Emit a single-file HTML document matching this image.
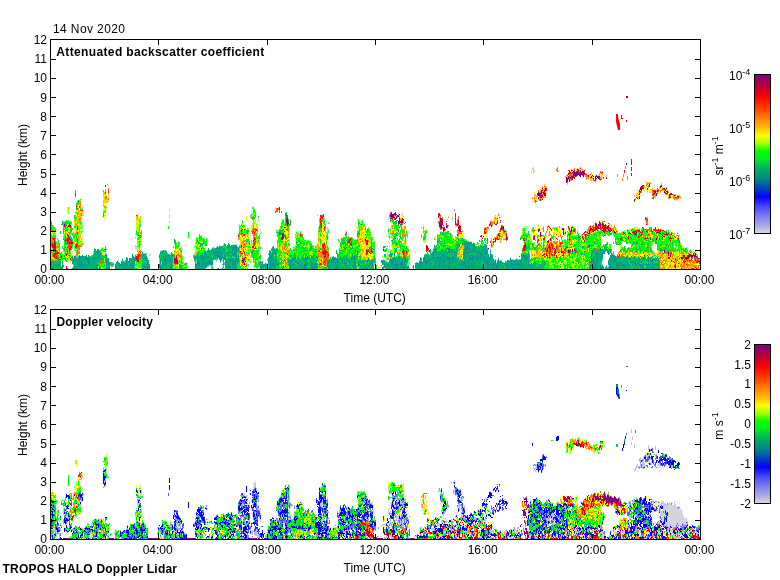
<!DOCTYPE html><html><head><meta charset="utf-8"><style>html,body{margin:0;padding:0;background:#fff;width:780px;height:580px;overflow:hidden}svg{display:block}text{font-family:"Liberation Sans", Arial, Helvetica, sans-serif;fill:#000}</style></head><body>
<svg width="780" height="580" viewBox="0 0 780 580">
<defs><linearGradient id="cm" x1="0" y1="0" x2="0" y2="1"><stop offset="0.0" stop-color="#800080"/><stop offset="0.064" stop-color="#b00040"/><stop offset="0.134" stop-color="#ff0000"/><stop offset="0.21" stop-color="#ff4000"/><stop offset="0.274" stop-color="#ff8000"/><stop offset="0.338" stop-color="#ffc000"/><stop offset="0.385" stop-color="#ffff00"/><stop offset="0.433" stop-color="#a0ff00"/><stop offset="0.484" stop-color="#00ff00"/><stop offset="0.529" stop-color="#00f020"/><stop offset="0.592" stop-color="#00b060"/><stop offset="0.656" stop-color="#008888"/><stop offset="0.707" stop-color="#0050b0"/><stop offset="0.771" stop-color="#0000ff"/><stop offset="0.834" stop-color="#4848ff"/><stop offset="0.898" stop-color="#8080f0"/><stop offset="0.962" stop-color="#b0b0e8"/><stop offset="1.0" stop-color="#d8d8e8"/></linearGradient></defs>
<defs><pattern id="p_teal" patternUnits="userSpaceOnUse" width="24" height="16"><rect width="24" height="16" fill="#00a888"/><path fill="#009098" d="M2 0h1v2h-1zM4 0h1v2h-1zM7 0h1v2h-1zM9 0h1v2h-1zM12 0h1v2h-1zM16 0h1v2h-1zM18 0h1v2h-1zM5 2h2v2h-2zM8 2h1v2h-1zM13 2h1v2h-1zM15 2h2v2h-2zM21 2h2v2h-2zM4 4h1v2h-1zM7 4h1v2h-1zM11 4h1v2h-1zM15 4h3v2h-3zM20 4h2v2h-2zM0 6h1v2h-1zM7 6h1v2h-1zM17 6h2v2h-2zM7 8h2v2h-2zM11 8h1v2h-1zM13 8h1v2h-1zM16 8h2v2h-2zM3 10h1v2h-1zM16 10h1v2h-1zM0 12h2v2h-2zM10 12h1v2h-1zM12 12h1v2h-1zM14 12h1v2h-1zM22 12h1v2h-1zM9 14h1v2h-1zM17 14h1v2h-1z"/><path fill="#00b868" d="M13 0h1v2h-1zM22 0h1v2h-1zM3 2h1v2h-1zM12 2h1v2h-1zM18 2h2v2h-2zM23 2h1v2h-1zM0 4h1v2h-1zM5 4h1v2h-1zM9 4h2v2h-2zM12 4h1v2h-1zM14 4h1v2h-1zM18 4h1v2h-1zM23 4h1v2h-1zM2 6h1v2h-1zM5 6h1v2h-1zM11 6h1v2h-1zM15 6h1v2h-1zM19 6h3v2h-3zM1 8h1v2h-1zM15 8h1v2h-1zM18 8h1v2h-1zM20 8h4v2h-4zM15 10h1v2h-1zM22 10h1v2h-1zM6 12h1v2h-1zM16 12h2v2h-2zM21 12h1v2h-1zM23 12h1v2h-1zM2 14h1v2h-1zM4 14h4v2h-4zM15 14h1v2h-1z"/><path fill="#00d040" d="M17 0h1v2h-1zM20 0h1v2h-1zM2 4h1v2h-1zM19 4h1v2h-1zM1 6h1v2h-1zM2 8h1v2h-1zM14 8h1v2h-1zM23 10h1v2h-1zM9 12h1v2h-1zM15 12h1v2h-1zM3 14h1v2h-1zM16 14h1v2h-1zM18 14h3v2h-3z"/></pattern><pattern id="p_tealg" patternUnits="userSpaceOnUse" width="24" height="16"><rect width="24" height="16" fill="#00a888"/><path fill="#00d040" d="M2 0h1v2h-1zM6 0h1v2h-1zM9 0h1v2h-1zM22 0h1v2h-1zM7 2h1v2h-1zM9 2h1v2h-1zM13 2h1v2h-1zM23 2h1v2h-1zM6 4h1v2h-1zM20 4h2v2h-2zM0 6h1v2h-1zM3 6h1v2h-1zM8 6h1v2h-1zM12 6h1v2h-1zM15 6h1v2h-1zM20 6h1v2h-1zM0 8h1v2h-1zM9 8h1v2h-1zM13 8h2v2h-2zM6 10h1v2h-1zM8 10h1v2h-1zM12 10h1v2h-1zM6 12h2v2h-2zM10 12h1v2h-1zM14 12h1v2h-1zM22 12h1v2h-1zM19 14h1v2h-1z"/><path fill="#009098" d="M3 0h2v2h-2zM10 0h1v2h-1zM18 0h1v2h-1zM21 0h1v2h-1zM2 2h1v2h-1zM5 2h2v2h-2zM12 2h1v2h-1zM15 2h1v2h-1zM17 2h2v2h-2zM3 4h1v2h-1zM7 4h1v2h-1zM9 4h1v2h-1zM10 6h1v2h-1zM19 6h1v2h-1zM21 6h2v2h-2zM1 8h2v2h-2zM11 8h1v2h-1zM16 8h2v2h-2zM19 8h1v2h-1zM22 8h2v2h-2zM15 10h1v2h-1zM17 10h1v2h-1zM1 12h2v2h-2zM5 12h1v2h-1zM13 12h1v2h-1zM17 12h1v2h-1zM19 12h1v2h-1zM23 12h1v2h-1zM22 14h1v2h-1z"/><path fill="#00b868" d="M5 0h1v2h-1zM13 0h1v2h-1zM16 0h1v2h-1zM19 0h2v2h-2zM8 2h1v2h-1zM14 2h1v2h-1zM16 2h1v2h-1zM21 2h1v2h-1zM1 4h1v2h-1zM4 4h2v2h-2zM8 4h1v2h-1zM10 4h3v2h-3zM14 4h1v2h-1zM19 4h1v2h-1zM22 4h2v2h-2zM5 6h1v2h-1zM7 6h1v2h-1zM11 6h1v2h-1zM13 6h2v2h-2zM16 6h3v2h-3zM5 8h1v2h-1zM20 8h2v2h-2zM1 10h3v2h-3zM5 10h1v2h-1zM9 10h1v2h-1zM11 10h1v2h-1zM13 10h1v2h-1zM0 12h1v2h-1zM11 12h1v2h-1zM20 12h2v2h-2zM2 14h1v2h-1zM8 14h2v2h-2zM11 14h2v2h-2zM14 14h1v2h-1zM21 14h1v2h-1z"/><path fill="#00ff00" d="M7 0h1v2h-1zM11 0h2v2h-2zM15 0h1v2h-1zM17 0h1v2h-1zM3 2h1v2h-1zM17 4h1v2h-1zM1 6h1v2h-1zM6 6h1v2h-1zM9 6h1v2h-1zM10 8h1v2h-1zM16 10h1v2h-1zM21 10h1v2h-1zM15 12h1v2h-1zM10 14h1v2h-1zM18 14h1v2h-1z"/></pattern><pattern id="p_green" patternUnits="userSpaceOnUse" width="24" height="16"><rect width="24" height="16" fill="#00ff00"/><path fill="#a0ff00" d="M0 0h1v2h-1zM3 0h1v2h-1zM9 0h2v2h-2zM17 0h1v2h-1zM21 0h2v2h-2zM6 4h1v2h-1zM8 4h2v2h-2zM14 4h1v2h-1zM17 4h2v2h-2zM20 4h2v2h-2zM1 6h3v2h-3zM5 6h1v2h-1zM13 6h1v2h-1zM20 6h2v2h-2zM2 8h1v2h-1zM6 8h1v2h-1zM8 8h1v2h-1zM14 8h1v2h-1zM20 8h1v2h-1zM10 10h1v2h-1zM16 10h1v2h-1zM4 12h1v2h-1zM6 12h2v2h-2zM9 12h1v2h-1zM19 12h1v2h-1zM21 12h2v2h-2zM1 14h1v2h-1zM13 14h1v2h-1zM22 14h2v2h-2z"/><path fill="#00d040" d="M5 0h2v2h-2zM11 0h1v2h-1zM23 0h1v2h-1zM9 2h1v2h-1zM17 2h1v2h-1zM19 2h1v2h-1zM4 4h2v2h-2zM7 4h1v2h-1zM15 4h1v2h-1zM19 4h1v2h-1zM23 4h1v2h-1zM0 6h1v2h-1zM4 6h1v2h-1zM6 6h2v2h-2zM14 6h4v2h-4zM22 6h2v2h-2zM0 8h1v2h-1zM13 8h1v2h-1zM15 8h2v2h-2zM22 8h1v2h-1zM2 10h3v2h-3zM6 10h1v2h-1zM23 10h1v2h-1zM1 12h1v2h-1zM5 12h1v2h-1zM7 14h1v2h-1zM18 14h1v2h-1z"/><path fill="#00b868" d="M7 0h1v2h-1zM7 2h2v2h-2zM11 2h1v2h-1zM12 4h1v2h-1zM9 8h1v2h-1zM12 10h2v2h-2zM17 10h1v2h-1zM21 10h1v2h-1zM2 12h1v2h-1zM0 14h1v2h-1zM2 14h1v2h-1zM6 14h1v2h-1zM15 14h1v2h-1zM21 14h1v2h-1z"/></pattern><pattern id="p_greeny" patternUnits="userSpaceOnUse" width="24" height="16"><rect width="24" height="16" fill="#00ff00"/><path fill="#a0ff00" d="M0 0h1v2h-1zM3 0h1v2h-1zM7 0h1v2h-1zM9 0h1v2h-1zM14 0h2v2h-2zM20 0h1v2h-1zM22 0h2v2h-2zM4 2h1v2h-1zM8 2h1v2h-1zM12 2h1v2h-1zM16 2h1v2h-1zM19 2h5v2h-5zM4 4h2v2h-2zM10 4h2v2h-2zM19 4h2v2h-2zM22 4h1v2h-1zM6 6h1v2h-1zM10 6h1v2h-1zM12 6h2v2h-2zM18 6h1v2h-1zM22 6h1v2h-1zM2 8h3v2h-3zM6 8h1v2h-1zM9 8h1v2h-1zM11 8h1v2h-1zM13 8h1v2h-1zM20 8h1v2h-1zM22 8h1v2h-1zM4 10h2v2h-2zM10 10h1v2h-1zM20 10h1v2h-1zM23 10h1v2h-1zM0 12h1v2h-1zM3 12h1v2h-1zM9 12h1v2h-1zM20 12h3v2h-3zM3 14h1v2h-1zM8 14h1v2h-1zM11 14h1v2h-1zM13 14h2v2h-2zM17 14h1v2h-1zM20 14h1v2h-1z"/><path fill="#00d040" d="M1 0h2v2h-2zM12 0h1v2h-1zM18 0h1v2h-1zM3 2h1v2h-1zM6 2h2v2h-2zM2 4h1v2h-1zM12 4h1v2h-1zM18 4h1v2h-1zM23 4h1v2h-1zM2 6h1v2h-1zM8 6h1v2h-1zM17 6h1v2h-1zM10 8h1v2h-1zM16 8h1v2h-1zM1 10h1v2h-1zM12 10h1v2h-1zM19 10h1v2h-1zM1 12h1v2h-1zM5 12h1v2h-1zM10 12h1v2h-1zM13 12h2v2h-2zM17 12h1v2h-1zM4 14h1v2h-1zM6 14h1v2h-1zM15 14h1v2h-1zM18 14h1v2h-1z"/><path fill="#ffff00" d="M4 0h1v2h-1zM6 0h1v2h-1zM8 0h1v2h-1zM17 0h1v2h-1zM17 2h2v2h-2zM6 4h1v2h-1zM13 4h2v2h-2zM17 4h1v2h-1zM0 6h2v2h-2zM7 6h1v2h-1zM9 6h1v2h-1zM11 6h1v2h-1zM15 6h1v2h-1zM23 6h1v2h-1zM12 8h1v2h-1zM17 8h1v2h-1zM21 8h1v2h-1zM0 10h1v2h-1zM6 10h1v2h-1zM8 10h2v2h-2zM14 10h1v2h-1zM17 10h1v2h-1zM11 12h2v2h-2zM18 12h1v2h-1zM9 14h2v2h-2zM21 14h2v2h-2z"/></pattern><pattern id="p_yellow" patternUnits="userSpaceOnUse" width="24" height="16"><rect width="24" height="16" fill="#ffff00"/><path fill="#ff8000" d="M2 0h1v2h-1zM5 0h1v2h-1zM8 0h1v2h-1zM16 0h1v2h-1zM18 0h1v2h-1zM22 0h2v2h-2zM4 2h1v2h-1zM23 2h1v2h-1zM1 4h1v2h-1zM5 6h1v2h-1zM10 6h1v2h-1zM15 6h1v2h-1zM20 6h1v2h-1zM22 6h1v2h-1zM4 8h1v2h-1zM11 10h1v2h-1zM17 10h1v2h-1zM23 10h1v2h-1zM9 12h1v2h-1zM17 12h1v2h-1zM21 12h1v2h-1zM0 14h2v2h-2zM4 14h1v2h-1zM6 14h1v2h-1zM23 14h1v2h-1z"/><path fill="#a0ff00" d="M4 0h1v2h-1zM11 0h1v2h-1zM15 0h1v2h-1zM6 2h4v2h-4zM14 2h1v2h-1zM17 2h1v2h-1zM0 4h1v2h-1zM6 4h1v2h-1zM11 4h3v2h-3zM16 4h1v2h-1zM20 4h1v2h-1zM1 6h1v2h-1zM8 6h1v2h-1zM13 6h2v2h-2zM0 8h1v2h-1zM3 8h1v2h-1zM18 8h1v2h-1zM22 8h1v2h-1zM7 10h1v2h-1zM16 10h1v2h-1zM20 10h1v2h-1zM1 12h1v2h-1zM3 12h1v2h-1zM20 12h1v2h-1zM8 14h1v2h-1zM10 14h1v2h-1zM13 14h2v2h-2zM22 14h1v2h-1z"/><path fill="#ffc000" d="M9 0h1v2h-1zM17 0h1v2h-1zM21 0h1v2h-1zM3 2h1v2h-1zM10 2h1v2h-1zM21 2h1v2h-1zM5 4h1v2h-1zM7 4h1v2h-1zM10 4h1v2h-1zM14 4h1v2h-1zM18 4h1v2h-1zM2 6h1v2h-1zM6 6h1v2h-1zM9 6h1v2h-1zM12 6h1v2h-1zM21 6h1v2h-1zM1 8h1v2h-1zM6 8h2v2h-2zM13 8h2v2h-2zM23 8h1v2h-1zM3 10h2v2h-2zM13 10h1v2h-1zM4 12h1v2h-1zM7 12h2v2h-2zM11 12h1v2h-1zM13 12h1v2h-1zM16 12h1v2h-1zM19 12h1v2h-1zM2 14h1v2h-1zM7 14h1v2h-1zM18 14h1v2h-1z"/></pattern><pattern id="p_orange" patternUnits="userSpaceOnUse" width="24" height="16"><rect width="24" height="16" fill="#ff8000"/><path fill="#ffc000" d="M1 0h1v2h-1zM6 0h3v2h-3zM11 0h1v2h-1zM13 0h3v2h-3zM17 0h2v2h-2zM22 0h1v2h-1zM0 2h1v2h-1zM3 2h1v2h-1zM5 2h2v2h-2zM8 2h1v2h-1zM12 2h1v2h-1zM14 2h1v2h-1zM0 4h1v2h-1zM14 4h1v2h-1zM18 4h1v2h-1zM0 6h1v2h-1zM5 6h2v2h-2zM9 6h2v2h-2zM14 6h1v2h-1zM19 6h1v2h-1zM22 6h1v2h-1zM4 8h1v2h-1zM6 8h2v2h-2zM12 8h3v2h-3zM18 8h1v2h-1zM1 10h2v2h-2zM4 10h2v2h-2zM11 10h1v2h-1zM17 10h2v2h-2zM20 10h2v2h-2zM3 12h1v2h-1zM9 12h1v2h-1zM13 12h3v2h-3zM3 14h1v2h-1zM5 14h1v2h-1zM12 14h1v2h-1zM14 14h1v2h-1zM16 14h2v2h-2zM19 14h1v2h-1zM21 14h1v2h-1z"/><path fill="#ffff00" d="M2 0h1v2h-1zM4 0h1v2h-1zM20 0h2v2h-2zM10 2h2v2h-2zM18 2h1v2h-1zM20 2h2v2h-2zM4 4h1v2h-1zM8 4h1v2h-1zM12 4h1v2h-1zM3 6h1v2h-1zM16 6h1v2h-1zM21 6h1v2h-1zM0 8h1v2h-1zM2 8h1v2h-1zM13 10h1v2h-1zM23 10h1v2h-1zM7 12h1v2h-1zM16 12h1v2h-1zM22 12h2v2h-2zM1 14h2v2h-2zM4 14h1v2h-1zM11 14h1v2h-1zM13 14h1v2h-1zM18 14h1v2h-1z"/><path fill="#ff0000" d="M16 2h1v2h-1zM19 2h1v2h-1zM23 2h1v2h-1zM1 4h2v2h-2zM5 4h1v2h-1zM10 4h1v2h-1zM15 4h1v2h-1zM23 4h1v2h-1zM1 6h1v2h-1zM8 6h1v2h-1zM11 6h1v2h-1zM13 6h1v2h-1zM18 6h1v2h-1zM5 8h1v2h-1zM15 8h1v2h-1zM7 10h1v2h-1zM12 10h1v2h-1zM22 10h1v2h-1zM1 12h1v2h-1zM10 12h1v2h-1zM21 12h1v2h-1zM22 14h1v2h-1z"/></pattern><pattern id="p_red" patternUnits="userSpaceOnUse" width="24" height="16"><rect width="24" height="16" fill="#ff0000"/><path fill="#b00048" d="M0 0h1v2h-1zM5 0h1v2h-1zM8 0h1v2h-1zM11 0h1v2h-1zM15 0h1v2h-1zM3 2h1v2h-1zM7 2h1v2h-1zM21 2h1v2h-1zM0 4h2v2h-2zM0 6h1v2h-1zM19 6h1v2h-1zM5 8h1v2h-1zM20 8h1v2h-1zM22 8h1v2h-1zM2 10h1v2h-1zM5 10h1v2h-1zM0 12h1v2h-1zM14 12h1v2h-1zM17 12h1v2h-1zM20 12h1v2h-1zM16 14h1v2h-1zM23 14h1v2h-1z"/><path fill="#ff5000" d="M4 0h1v2h-1zM6 0h1v2h-1zM12 0h3v2h-3zM18 0h1v2h-1zM21 0h2v2h-2zM1 2h1v2h-1zM12 2h4v2h-4zM17 2h1v2h-1zM8 4h1v2h-1zM10 4h1v2h-1zM21 4h1v2h-1zM1 6h1v2h-1zM3 6h1v2h-1zM9 6h2v2h-2zM8 8h1v2h-1zM11 8h1v2h-1zM14 8h1v2h-1zM16 8h1v2h-1zM3 10h1v2h-1zM8 10h1v2h-1zM11 10h1v2h-1zM16 10h2v2h-2zM21 10h1v2h-1zM4 12h1v2h-1zM10 12h1v2h-1zM15 12h1v2h-1zM22 12h1v2h-1zM1 14h1v2h-1zM8 14h3v2h-3zM13 14h1v2h-1zM15 14h1v2h-1zM18 14h2v2h-2zM22 14h1v2h-1z"/><path fill="#ff8000" d="M17 0h1v2h-1zM19 0h1v2h-1zM19 2h2v2h-2zM23 2h1v2h-1zM6 4h2v2h-2zM9 4h1v2h-1zM14 4h1v2h-1zM2 6h1v2h-1zM7 6h1v2h-1zM12 6h1v2h-1zM14 6h1v2h-1zM18 6h1v2h-1zM23 6h1v2h-1zM3 8h1v2h-1zM13 8h1v2h-1zM15 8h1v2h-1zM9 10h2v2h-2zM15 10h1v2h-1zM20 10h1v2h-1zM5 12h1v2h-1zM21 12h1v2h-1zM7 14h1v2h-1z"/></pattern><pattern id="p_redp" patternUnits="userSpaceOnUse" width="24" height="16"><rect width="24" height="16" fill="#ff0000"/><path fill="#b00048" d="M0 0h5v2h-5zM7 0h1v2h-1zM10 0h3v2h-3zM18 0h1v2h-1zM21 0h2v2h-2zM5 2h1v2h-1zM11 2h1v2h-1zM13 2h2v2h-2zM19 2h1v2h-1zM21 2h1v2h-1zM7 4h1v2h-1zM11 4h1v2h-1zM15 4h1v2h-1zM19 4h3v2h-3zM3 6h3v2h-3zM10 6h1v2h-1zM12 6h1v2h-1zM19 6h1v2h-1zM1 8h2v2h-2zM5 8h1v2h-1zM7 8h1v2h-1zM9 8h1v2h-1zM11 8h2v2h-2zM16 8h1v2h-1zM21 8h1v2h-1zM1 10h1v2h-1zM5 10h2v2h-2zM8 10h2v2h-2zM11 10h1v2h-1zM13 10h1v2h-1zM3 12h1v2h-1zM5 12h1v2h-1zM8 12h2v2h-2zM14 12h2v2h-2zM18 12h1v2h-1zM2 14h2v2h-2zM5 14h1v2h-1zM9 14h1v2h-1zM14 14h1v2h-1zM16 14h1v2h-1zM22 14h2v2h-2z"/><path fill="#800080" d="M5 0h1v2h-1zM9 0h1v2h-1zM14 0h4v2h-4zM23 0h1v2h-1zM0 2h1v2h-1zM3 2h1v2h-1zM7 2h1v2h-1zM9 2h2v2h-2zM12 2h1v2h-1zM15 2h2v2h-2zM20 2h1v2h-1zM3 4h1v2h-1zM5 4h2v2h-2zM13 4h1v2h-1zM16 4h1v2h-1zM22 4h2v2h-2zM6 6h1v2h-1zM8 6h1v2h-1zM14 6h1v2h-1zM16 6h1v2h-1zM23 6h1v2h-1zM0 8h1v2h-1zM4 10h1v2h-1zM12 10h1v2h-1zM14 10h1v2h-1zM16 10h1v2h-1zM20 10h1v2h-1zM22 10h1v2h-1zM0 12h3v2h-3zM6 12h2v2h-2zM11 12h1v2h-1zM17 12h1v2h-1zM22 12h2v2h-2zM7 14h2v2h-2zM11 14h3v2h-3zM17 14h2v2h-2zM20 14h1v2h-1z"/><path fill="#ff8000" d="M19 0h1v2h-1zM1 2h1v2h-1zM6 2h1v2h-1zM17 2h1v2h-1zM23 2h1v2h-1zM12 4h1v2h-1zM1 6h1v2h-1zM4 8h1v2h-1zM8 8h1v2h-1zM15 8h1v2h-1zM0 10h1v2h-1zM3 10h1v2h-1zM7 10h1v2h-1zM15 10h1v2h-1zM12 12h1v2h-1zM19 12h1v2h-1zM21 12h1v2h-1zM0 14h1v2h-1zM21 14h1v2h-1z"/></pattern><pattern id="p_cloud" patternUnits="userSpaceOnUse" width="24" height="16"><rect width="24" height="16" fill="#ff8000"/><path fill="#ffc000" d="M0 0h3v2h-3zM11 0h1v2h-1zM11 2h1v2h-1zM15 2h2v2h-2zM18 2h1v2h-1zM7 4h1v2h-1zM12 4h1v2h-1zM16 6h1v2h-1zM0 8h1v2h-1zM6 8h1v2h-1zM12 8h1v2h-1zM16 8h1v2h-1zM21 8h1v2h-1zM2 10h1v2h-1zM7 10h1v2h-1zM10 10h1v2h-1zM15 10h1v2h-1zM17 10h1v2h-1zM3 12h1v2h-1zM8 12h1v2h-1zM20 12h1v2h-1zM14 14h1v2h-1zM16 14h1v2h-1zM21 14h1v2h-1z"/><path fill="#800080" d="M3 0h2v2h-2zM7 0h1v2h-1zM15 0h2v2h-2zM19 0h5v2h-5zM0 2h1v2h-1zM2 2h1v2h-1zM10 2h1v2h-1zM20 2h1v2h-1zM8 4h1v2h-1zM14 4h1v2h-1zM19 4h1v2h-1zM2 6h1v2h-1zM4 6h1v2h-1zM8 6h1v2h-1zM10 6h1v2h-1zM12 6h2v2h-2zM18 6h1v2h-1zM21 6h1v2h-1zM1 8h1v2h-1zM9 8h1v2h-1zM13 8h2v2h-2zM0 10h1v2h-1zM3 10h1v2h-1zM6 10h1v2h-1zM11 10h2v2h-2zM19 10h1v2h-1zM6 12h1v2h-1zM16 12h2v2h-2zM9 14h1v2h-1zM13 14h1v2h-1zM23 14h1v2h-1z"/><path fill="#ffff00" d="M5 0h1v2h-1zM17 0h1v2h-1zM4 2h1v2h-1zM8 2h1v2h-1zM12 2h2v2h-2zM2 4h1v2h-1zM7 6h1v2h-1zM22 6h1v2h-1zM11 8h1v2h-1zM17 8h1v2h-1zM19 8h1v2h-1zM1 10h1v2h-1zM5 10h1v2h-1zM14 10h1v2h-1zM20 10h1v2h-1zM23 10h1v2h-1zM0 12h1v2h-1zM5 12h1v2h-1zM11 12h1v2h-1zM13 12h1v2h-1zM21 12h2v2h-2zM1 14h2v2h-2z"/><path fill="#ffffff" d="M8 0h1v2h-1zM14 0h1v2h-1zM18 0h1v2h-1zM9 2h1v2h-1zM21 2h1v2h-1zM4 4h1v2h-1zM9 4h2v2h-2zM21 4h1v2h-1zM23 4h1v2h-1zM9 6h1v2h-1zM15 6h1v2h-1zM17 6h1v2h-1zM3 8h1v2h-1zM18 8h1v2h-1zM23 8h1v2h-1zM4 10h1v2h-1zM9 10h1v2h-1zM13 10h1v2h-1zM21 10h1v2h-1zM1 12h1v2h-1zM4 12h1v2h-1zM7 12h1v2h-1zM14 12h1v2h-1zM5 14h2v2h-2zM20 14h1v2h-1z"/><path fill="#ff0000" d="M9 0h1v2h-1zM3 2h1v2h-1zM14 2h1v2h-1zM17 2h1v2h-1zM19 2h1v2h-1zM23 2h1v2h-1zM3 4h1v2h-1zM5 4h1v2h-1zM11 4h1v2h-1zM14 6h1v2h-1zM4 8h1v2h-1zM7 8h2v2h-2zM15 8h1v2h-1zM20 8h1v2h-1zM8 10h1v2h-1zM18 10h1v2h-1zM2 12h1v2h-1zM10 12h1v2h-1zM18 12h1v2h-1zM23 12h1v2h-1zM4 14h1v2h-1zM7 14h2v2h-2zM15 14h1v2h-1zM17 14h1v2h-1z"/></pattern><pattern id="p_cloudw" patternUnits="userSpaceOnUse" width="24" height="16"><rect width="24" height="16" fill="#ffffff"/><path fill="#ff8000" d="M1 0h1v2h-1zM5 0h2v2h-2zM19 0h1v2h-1zM22 0h2v2h-2zM5 2h1v2h-1zM8 2h1v2h-1zM17 2h1v2h-1zM21 2h1v2h-1zM3 4h1v2h-1zM8 4h2v2h-2zM16 4h1v2h-1zM19 4h1v2h-1zM23 4h1v2h-1zM1 6h1v2h-1zM4 6h1v2h-1zM10 6h1v2h-1zM12 6h1v2h-1zM21 6h1v2h-1zM23 6h1v2h-1zM2 8h1v2h-1zM6 8h1v2h-1zM14 8h1v2h-1zM16 8h1v2h-1zM4 10h1v2h-1zM7 10h1v2h-1zM11 10h1v2h-1zM14 10h2v2h-2zM23 10h1v2h-1zM4 12h2v2h-2zM15 12h1v2h-1zM19 12h1v2h-1zM1 14h1v2h-1zM9 14h1v2h-1zM12 14h1v2h-1zM16 14h1v2h-1z"/><path fill="#ff0000" d="M3 0h1v2h-1zM11 0h1v2h-1zM18 0h1v2h-1zM7 2h1v2h-1zM10 2h1v2h-1zM15 2h1v2h-1zM22 2h2v2h-2zM13 4h1v2h-1zM17 4h2v2h-2zM17 6h1v2h-1zM4 8h2v2h-2zM7 8h1v2h-1zM9 8h1v2h-1zM12 8h1v2h-1zM21 8h2v2h-2zM0 10h1v2h-1zM5 10h1v2h-1zM9 10h1v2h-1zM13 10h1v2h-1zM8 12h1v2h-1zM17 12h1v2h-1zM21 12h1v2h-1zM5 14h1v2h-1zM8 14h1v2h-1zM10 14h1v2h-1zM20 14h1v2h-1zM22 14h1v2h-1z"/><path fill="#ffff00" d="M4 0h1v2h-1zM10 0h1v2h-1zM0 2h1v2h-1zM11 2h1v2h-1zM1 8h1v2h-1zM17 10h1v2h-1zM22 10h1v2h-1zM13 12h1v2h-1zM13 14h1v2h-1zM15 14h1v2h-1z"/><path fill="#800080" d="M9 0h1v2h-1zM13 0h1v2h-1zM2 2h1v2h-1zM16 2h1v2h-1zM20 4h1v2h-1zM11 6h1v2h-1zM16 6h1v2h-1zM19 6h1v2h-1zM11 8h1v2h-1zM20 8h1v2h-1zM19 10h1v2h-1zM7 12h1v2h-1zM0 14h1v2h-1zM3 14h1v2h-1zM14 14h1v2h-1z"/><path fill="#ffc000" d="M20 0h2v2h-2zM20 2h1v2h-1zM21 4h2v2h-2zM3 6h1v2h-1zM6 6h1v2h-1zM22 6h1v2h-1zM10 8h1v2h-1zM19 8h1v2h-1zM23 8h1v2h-1zM18 10h1v2h-1zM21 10h1v2h-1zM0 12h1v2h-1zM3 12h1v2h-1zM9 12h1v2h-1zM14 12h1v2h-1zM6 14h1v2h-1z"/></pattern><pattern id="p_plume" patternUnits="userSpaceOnUse" width="24" height="16"><rect width="24" height="16" fill="#00ff00"/><path fill="#ff0000" d="M1 0h1v2h-1zM0 2h1v2h-1zM11 2h1v2h-1zM16 2h1v2h-1zM20 2h1v2h-1zM9 4h1v2h-1zM5 6h2v2h-2zM14 8h1v2h-1zM8 10h1v2h-1zM18 10h1v2h-1zM9 12h2v2h-2zM20 12h1v2h-1zM5 14h1v2h-1zM17 14h1v2h-1z"/><path fill="#00d040" d="M2 0h1v2h-1zM8 0h1v2h-1zM17 2h1v2h-1zM23 2h1v2h-1zM5 4h1v2h-1zM7 4h1v2h-1zM12 4h2v2h-2zM0 6h1v2h-1zM2 6h1v2h-1zM13 6h1v2h-1zM18 6h1v2h-1zM0 8h1v2h-1zM13 10h1v2h-1zM2 12h1v2h-1zM18 12h1v2h-1zM1 14h1v2h-1z"/><path fill="#a0ff00" d="M3 0h4v2h-4zM21 0h1v2h-1zM4 2h2v2h-2zM8 2h1v2h-1zM18 2h2v2h-2zM21 2h2v2h-2zM4 4h1v2h-1zM11 4h1v2h-1zM15 4h1v2h-1zM17 4h2v2h-2zM20 4h2v2h-2zM12 6h1v2h-1zM16 6h2v2h-2zM1 8h1v2h-1zM3 8h2v2h-2zM9 8h1v2h-1zM20 8h1v2h-1zM23 8h1v2h-1zM3 10h2v2h-2zM11 10h1v2h-1zM19 10h1v2h-1zM21 10h2v2h-2zM11 12h1v2h-1zM15 12h1v2h-1zM0 14h1v2h-1zM3 14h1v2h-1zM7 14h3v2h-3zM12 14h1v2h-1zM14 14h1v2h-1zM18 14h2v2h-2z"/><path fill="#ff8000" d="M13 0h1v2h-1zM14 2h1v2h-1zM0 4h1v2h-1zM6 4h1v2h-1zM8 4h1v2h-1zM1 6h1v2h-1zM4 6h1v2h-1zM15 10h1v2h-1zM23 10h1v2h-1zM3 12h1v2h-1zM12 12h3v2h-3zM16 12h1v2h-1zM22 12h1v2h-1zM4 14h1v2h-1zM16 14h1v2h-1z"/><path fill="#ffff00" d="M16 0h1v2h-1zM19 0h2v2h-2zM22 0h1v2h-1zM1 2h1v2h-1zM10 2h1v2h-1zM13 2h1v2h-1zM16 4h1v2h-1zM3 6h1v2h-1zM8 6h1v2h-1zM10 6h1v2h-1zM14 6h1v2h-1zM21 6h1v2h-1zM23 6h1v2h-1zM13 8h1v2h-1zM15 8h3v2h-3zM19 8h1v2h-1zM21 8h2v2h-2zM5 10h1v2h-1zM10 10h1v2h-1zM7 12h2v2h-2zM17 12h1v2h-1zM23 12h1v2h-1zM2 14h1v2h-1zM6 14h1v2h-1zM10 14h1v2h-1zM13 14h1v2h-1zM23 14h1v2h-1z"/></pattern><pattern id="p_plumer" patternUnits="userSpaceOnUse" width="24" height="16"><rect width="24" height="16" fill="#ffff00"/><path fill="#ff0000" d="M0 0h1v2h-1zM12 0h2v2h-2zM16 0h1v2h-1zM18 0h2v2h-2zM23 0h1v2h-1zM3 2h1v2h-1zM7 2h2v2h-2zM11 2h1v2h-1zM13 2h1v2h-1zM16 2h1v2h-1zM22 2h1v2h-1zM8 4h2v2h-2zM12 4h2v2h-2zM16 4h1v2h-1zM1 6h1v2h-1zM4 6h2v2h-2zM7 6h2v2h-2zM10 6h1v2h-1zM18 6h1v2h-1zM20 6h1v2h-1zM8 8h1v2h-1zM10 8h1v2h-1zM14 8h1v2h-1zM17 8h1v2h-1zM2 10h1v2h-1zM4 10h1v2h-1zM12 10h1v2h-1zM20 10h1v2h-1zM22 10h1v2h-1zM10 12h1v2h-1zM4 14h1v2h-1zM6 14h1v2h-1zM11 14h1v2h-1zM14 14h1v2h-1zM18 14h2v2h-2zM23 14h1v2h-1z"/><path fill="#a0ff00" d="M2 0h1v2h-1zM6 0h1v2h-1zM9 0h1v2h-1zM14 0h1v2h-1zM17 0h1v2h-1zM1 2h1v2h-1zM10 2h1v2h-1zM14 2h1v2h-1zM20 2h1v2h-1zM0 4h1v2h-1zM3 4h1v2h-1zM15 4h1v2h-1zM9 6h1v2h-1zM7 8h1v2h-1zM13 8h1v2h-1zM15 8h1v2h-1zM20 8h1v2h-1zM23 8h1v2h-1zM3 10h1v2h-1zM5 10h1v2h-1zM18 10h1v2h-1zM1 14h1v2h-1zM3 14h1v2h-1zM10 14h1v2h-1z"/><path fill="#ff8000" d="M3 0h1v2h-1zM8 0h1v2h-1zM21 0h2v2h-2zM0 2h1v2h-1zM5 2h2v2h-2zM12 2h1v2h-1zM15 2h1v2h-1zM19 2h1v2h-1zM5 4h1v2h-1zM7 4h1v2h-1zM14 4h1v2h-1zM18 4h1v2h-1zM20 4h1v2h-1zM23 4h1v2h-1zM6 6h1v2h-1zM11 6h1v2h-1zM1 8h1v2h-1zM3 8h1v2h-1zM5 8h1v2h-1zM9 8h1v2h-1zM11 8h1v2h-1zM16 8h1v2h-1zM18 8h1v2h-1zM22 8h1v2h-1zM1 10h1v2h-1zM6 10h2v2h-2zM10 10h1v2h-1zM14 10h1v2h-1zM16 10h1v2h-1zM19 10h1v2h-1zM23 10h1v2h-1zM0 12h1v2h-1zM4 12h2v2h-2zM7 12h2v2h-2zM11 12h1v2h-1zM15 12h1v2h-1zM18 12h1v2h-1zM22 12h1v2h-1zM0 14h1v2h-1zM5 14h1v2h-1zM9 14h1v2h-1zM12 14h2v2h-2zM20 14h1v2h-1zM22 14h1v2h-1z"/><path fill="#800080" d="M4 0h2v2h-2zM9 2h1v2h-1zM17 2h1v2h-1zM21 2h1v2h-1zM2 4h1v2h-1zM4 4h1v2h-1zM19 4h1v2h-1zM0 6h1v2h-1zM19 6h1v2h-1zM21 6h1v2h-1zM21 8h1v2h-1zM0 10h1v2h-1zM11 10h1v2h-1zM13 10h1v2h-1zM3 12h1v2h-1zM16 12h1v2h-1zM19 12h2v2h-2zM16 14h1v2h-1z"/><path fill="#00ff00" d="M15 0h1v2h-1zM20 0h1v2h-1zM2 2h1v2h-1zM1 4h1v2h-1zM21 4h1v2h-1zM2 6h1v2h-1zM14 6h1v2h-1zM0 8h1v2h-1zM2 8h1v2h-1zM8 10h1v2h-1zM13 12h1v2h-1zM23 12h1v2h-1zM8 14h1v2h-1zM21 14h1v2h-1z"/></pattern><pattern id="p_plumeg" patternUnits="userSpaceOnUse" width="24" height="16"><rect width="24" height="16" fill="#00ff00"/><path fill="#a0ff00" d="M0 0h1v2h-1zM9 0h1v2h-1zM11 0h1v2h-1zM12 2h1v2h-1zM5 4h1v2h-1zM17 4h1v2h-1zM14 6h1v2h-1zM19 6h1v2h-1zM3 8h1v2h-1zM6 8h1v2h-1zM18 8h1v2h-1zM1 10h1v2h-1zM4 10h1v2h-1zM8 10h2v2h-2zM23 10h1v2h-1zM9 12h1v2h-1zM11 12h1v2h-1zM14 12h1v2h-1zM18 12h1v2h-1zM17 14h1v2h-1zM22 14h2v2h-2z"/><path fill="#00b868" d="M5 0h1v2h-1zM20 0h4v2h-4zM10 2h1v2h-1zM16 2h1v2h-1zM4 4h1v2h-1zM12 4h2v2h-2zM16 4h1v2h-1zM21 4h1v2h-1zM0 6h1v2h-1zM4 6h2v2h-2zM12 6h2v2h-2zM22 6h1v2h-1zM1 8h1v2h-1zM23 8h1v2h-1zM3 10h1v2h-1zM5 10h1v2h-1zM10 10h2v2h-2zM5 12h1v2h-1zM1 14h2v2h-2zM6 14h1v2h-1zM9 14h3v2h-3zM14 14h1v2h-1zM19 14h1v2h-1z"/><path fill="#ffff00" d="M7 0h1v2h-1zM17 0h1v2h-1zM3 2h2v2h-2zM7 2h2v2h-2zM17 2h1v2h-1zM2 4h1v2h-1zM6 4h1v2h-1zM9 4h1v2h-1zM2 6h1v2h-1zM11 6h1v2h-1zM17 6h1v2h-1zM0 8h1v2h-1zM5 8h1v2h-1zM14 8h2v2h-2zM7 10h1v2h-1zM19 10h1v2h-1zM7 12h1v2h-1zM17 12h1v2h-1zM20 12h1v2h-1zM5 14h1v2h-1z"/><path fill="#ff8000" d="M15 2h1v2h-1zM23 4h1v2h-1zM8 6h1v2h-1zM10 6h1v2h-1zM20 6h1v2h-1zM4 8h1v2h-1zM20 8h1v2h-1zM4 12h1v2h-1zM8 12h1v2h-1zM16 12h1v2h-1zM19 12h1v2h-1zM7 14h1v2h-1z"/></pattern><pattern id="p_greenred" patternUnits="userSpaceOnUse" width="24" height="16"><rect width="24" height="16" fill="#00ff00"/><path fill="#ffff00" d="M0 0h1v2h-1zM2 0h1v2h-1zM20 0h2v2h-2zM7 2h2v2h-2zM19 2h2v2h-2zM11 4h1v2h-1zM2 6h1v2h-1zM5 6h1v2h-1zM21 6h1v2h-1zM5 8h1v2h-1zM22 8h1v2h-1zM0 10h1v2h-1zM3 10h1v2h-1zM9 10h1v2h-1zM2 12h1v2h-1zM14 12h1v2h-1zM23 12h1v2h-1zM3 14h1v2h-1zM8 14h1v2h-1zM10 14h1v2h-1zM15 14h1v2h-1z"/><path fill="#ff8000" d="M1 0h1v2h-1zM10 0h1v2h-1zM18 0h1v2h-1zM1 2h1v2h-1zM6 2h1v2h-1zM2 4h1v2h-1zM8 4h1v2h-1zM14 4h1v2h-1zM17 4h1v2h-1zM23 6h1v2h-1zM3 8h1v2h-1zM20 8h1v2h-1zM8 10h1v2h-1zM14 10h1v2h-1zM22 10h1v2h-1zM11 12h1v2h-1zM16 12h1v2h-1zM4 14h1v2h-1z"/><path fill="#a0ff00" d="M3 0h1v2h-1zM13 0h1v2h-1zM18 2h1v2h-1zM21 2h2v2h-2zM6 4h1v2h-1zM2 8h1v2h-1zM8 8h1v2h-1zM2 10h1v2h-1zM13 10h1v2h-1zM21 10h1v2h-1zM18 12h1v2h-1z"/><path fill="#ff0000" d="M4 0h2v2h-2zM8 0h1v2h-1zM2 2h1v2h-1zM12 2h1v2h-1zM17 2h1v2h-1zM23 2h1v2h-1zM3 4h1v2h-1zM5 4h1v2h-1zM7 4h1v2h-1zM19 4h1v2h-1zM21 4h2v2h-2zM3 6h1v2h-1zM8 6h1v2h-1zM10 6h2v2h-2zM13 6h1v2h-1zM15 6h2v2h-2zM22 6h1v2h-1zM9 8h1v2h-1zM17 8h1v2h-1zM23 8h1v2h-1zM1 10h1v2h-1zM16 10h1v2h-1zM18 10h1v2h-1zM3 12h1v2h-1zM9 12h1v2h-1zM15 12h1v2h-1zM22 12h1v2h-1zM6 14h1v2h-1zM11 14h1v2h-1zM16 14h1v2h-1zM20 14h2v2h-2z"/><path fill="#800080" d="M22 0h1v2h-1zM0 4h1v2h-1zM0 8h1v2h-1zM10 8h1v2h-1zM12 8h1v2h-1zM5 10h1v2h-1zM7 10h1v2h-1zM12 10h1v2h-1zM19 10h1v2h-1zM7 12h1v2h-1zM17 12h1v2h-1zM0 14h1v2h-1z"/></pattern><pattern id="p_yo" patternUnits="userSpaceOnUse" width="24" height="16"><rect width="24" height="16" fill="#ffff00"/><path fill="#ff8000" d="M1 0h1v2h-1zM8 0h1v2h-1zM13 0h1v2h-1zM18 0h2v2h-2zM21 0h3v2h-3zM2 2h1v2h-1zM5 2h1v2h-1zM7 2h2v2h-2zM10 2h1v2h-1zM12 2h1v2h-1zM4 4h1v2h-1zM10 4h2v2h-2zM15 4h1v2h-1zM18 4h1v2h-1zM21 4h1v2h-1zM8 6h1v2h-1zM12 6h1v2h-1zM14 6h1v2h-1zM16 6h1v2h-1zM18 6h1v2h-1zM20 6h1v2h-1zM3 8h1v2h-1zM7 8h2v2h-2zM10 8h1v2h-1zM15 8h1v2h-1zM18 8h1v2h-1zM23 8h1v2h-1zM2 10h2v2h-2zM8 10h1v2h-1zM10 10h1v2h-1zM13 10h4v2h-4zM18 10h1v2h-1zM20 10h3v2h-3zM0 12h1v2h-1zM9 12h2v2h-2zM14 12h1v2h-1zM20 12h1v2h-1zM2 14h1v2h-1zM6 14h1v2h-1zM10 14h1v2h-1zM12 14h1v2h-1zM17 14h1v2h-1zM19 14h1v2h-1zM23 14h1v2h-1z"/><path fill="#ffc000" d="M2 0h1v2h-1zM4 0h1v2h-1zM10 0h2v2h-2zM14 0h1v2h-1zM0 2h2v2h-2zM6 2h1v2h-1zM9 2h1v2h-1zM11 2h1v2h-1zM13 2h1v2h-1zM15 2h2v2h-2zM18 2h2v2h-2zM22 2h1v2h-1zM2 4h2v2h-2zM5 4h1v2h-1zM8 4h2v2h-2zM13 4h1v2h-1zM20 4h1v2h-1zM22 4h1v2h-1zM1 6h1v2h-1zM3 6h1v2h-1zM10 6h1v2h-1zM22 6h1v2h-1zM1 8h1v2h-1zM6 8h1v2h-1zM9 8h1v2h-1zM11 8h1v2h-1zM13 8h1v2h-1zM16 8h2v2h-2zM20 8h1v2h-1zM4 10h1v2h-1zM11 10h2v2h-2zM17 10h1v2h-1zM23 10h1v2h-1zM2 12h3v2h-3zM8 12h1v2h-1zM11 12h1v2h-1zM19 12h1v2h-1zM23 12h1v2h-1zM9 14h1v2h-1zM11 14h1v2h-1zM13 14h2v2h-2zM20 14h1v2h-1z"/><path fill="#a0ff00" d="M5 0h1v2h-1zM15 0h2v2h-2zM4 2h1v2h-1zM17 2h1v2h-1zM12 4h1v2h-1zM14 4h1v2h-1zM19 4h1v2h-1zM17 6h1v2h-1zM4 8h1v2h-1zM22 8h1v2h-1zM0 10h1v2h-1zM1 12h1v2h-1zM5 12h1v2h-1zM12 12h1v2h-1zM22 12h1v2h-1zM3 14h1v2h-1zM8 14h1v2h-1z"/><path fill="#ff0000" d="M20 0h1v2h-1zM3 2h1v2h-1zM1 4h1v2h-1zM23 4h1v2h-1zM2 6h1v2h-1zM13 6h1v2h-1zM21 6h1v2h-1zM2 8h1v2h-1zM15 14h1v2h-1zM21 14h1v2h-1z"/></pattern><pattern id="p_streaky" patternUnits="userSpaceOnUse" width="24" height="16"><rect width="24" height="16" fill="#ffffff"/><path fill="#00ff00" d="M0 0h1v4h-1zM7 0h1v4h-1zM15 0h1v4h-1zM0 4h1v4h-1zM4 4h3v4h-3zM14 8h1v4h-1zM16 8h1v4h-1zM23 8h1v4h-1zM1 12h1v4h-1zM6 12h1v4h-1zM9 12h1v4h-1zM21 12h3v4h-3z"/><path fill="#ffff00" d="M1 0h1v4h-1zM17 0h2v4h-2zM1 4h1v4h-1zM7 4h1v4h-1zM9 4h1v4h-1zM12 4h1v4h-1zM14 4h1v4h-1zM21 4h1v4h-1zM5 8h1v4h-1zM7 8h1v4h-1zM21 8h1v4h-1zM10 12h1v4h-1zM14 12h1v4h-1z"/><path fill="#ff8000" d="M2 0h1v4h-1zM13 0h1v4h-1zM15 4h1v4h-1zM19 4h1v4h-1zM8 8h1v4h-1zM19 8h1v4h-1zM13 12h1v4h-1z"/><path fill="#a0ff00" d="M3 0h1v4h-1zM11 0h1v4h-1zM3 4h1v4h-1zM2 8h1v4h-1zM12 8h1v4h-1zM3 12h1v4h-1z"/><path fill="#ff0000" d="M10 0h1v4h-1zM20 0h1v4h-1zM23 4h1v4h-1zM6 8h1v4h-1zM5 12h1v4h-1zM15 12h1v4h-1z"/><path fill="#800080" d="M21 0h1v4h-1zM11 4h1v4h-1zM11 8h1v4h-1z"/></pattern><pattern id="p_streakyg" patternUnits="userSpaceOnUse" width="24" height="16"><rect width="24" height="16" fill="#00ff00"/><path fill="#ffffff" d="M1 0h1v4h-1zM17 0h1v4h-1zM19 0h1v4h-1zM2 4h2v4h-2zM7 4h1v4h-1zM14 4h1v4h-1zM8 8h1v4h-1zM16 8h2v4h-2zM0 12h1v4h-1zM7 12h1v4h-1zM11 12h2v4h-2zM14 12h1v4h-1zM19 12h1v4h-1z"/><path fill="#a0ff00" d="M2 0h5v4h-5zM20 0h1v4h-1zM23 0h1v4h-1zM10 4h2v4h-2zM18 4h1v4h-1zM21 4h1v4h-1zM3 8h2v4h-2zM6 8h2v4h-2zM9 8h1v4h-1zM3 12h1v4h-1z"/><path fill="#ff8000" d="M7 0h1v4h-1zM13 0h1v4h-1zM18 0h1v4h-1zM21 0h1v4h-1zM13 4h1v4h-1zM19 4h1v4h-1zM18 8h1v4h-1zM21 12h1v4h-1z"/><path fill="#00b868" d="M8 0h1v4h-1zM4 4h3v4h-3zM16 4h1v4h-1zM11 8h1v4h-1zM22 8h1v4h-1zM1 12h1v4h-1zM4 12h3v4h-3zM9 12h2v4h-2zM16 12h1v4h-1z"/><path fill="#ffff00" d="M9 0h1v4h-1zM8 4h1v4h-1zM15 4h1v4h-1zM22 4h1v4h-1zM0 8h1v4h-1zM13 8h1v4h-1zM22 12h1v4h-1z"/></pattern><pattern id="p_v_gmixw" patternUnits="userSpaceOnUse" width="24" height="16"><rect width="24" height="16" fill="#ffffff"/><path fill="#c0c0ec" d="M1 0h2v2h-2zM20 0h1v2h-1zM23 0h1v2h-1zM2 2h1v2h-1zM12 2h1v2h-1zM0 4h1v2h-1zM5 4h1v2h-1zM10 4h1v2h-1zM13 4h1v2h-1zM17 4h1v2h-1zM0 6h2v2h-2zM5 6h1v2h-1zM8 6h1v2h-1zM19 6h2v2h-2zM6 8h1v2h-1zM12 8h3v2h-3zM0 10h1v2h-1zM11 10h1v2h-1zM14 10h1v2h-1zM19 10h1v2h-1zM0 12h1v2h-1zM6 12h1v2h-1zM12 12h1v2h-1zM18 12h1v2h-1zM5 14h1v2h-1zM14 14h1v2h-1zM16 14h1v2h-1z"/><path fill="#0000ff" d="M3 0h1v2h-1zM7 0h1v2h-1zM12 0h1v2h-1zM15 0h1v2h-1zM19 0h1v2h-1zM0 2h1v2h-1zM17 2h1v2h-1zM2 6h2v2h-2zM6 6h1v2h-1zM21 6h1v2h-1zM16 8h1v2h-1zM1 10h1v2h-1zM3 12h1v2h-1zM11 12h1v2h-1zM13 12h1v2h-1zM15 12h2v2h-2zM1 14h1v2h-1zM7 14h1v2h-1zM11 14h1v2h-1zM15 14h1v2h-1zM22 14h1v2h-1z"/><path fill="#800080" d="M5 0h1v2h-1zM8 0h1v2h-1zM10 0h1v2h-1zM4 2h1v2h-1zM7 2h1v2h-1zM13 2h2v2h-2zM20 2h1v2h-1zM1 4h1v2h-1zM19 8h1v2h-1zM23 8h1v2h-1zM18 14h1v2h-1zM20 14h1v2h-1z"/><path fill="#ff0000" d="M9 0h1v2h-1zM18 0h1v2h-1zM22 2h1v2h-1zM22 6h1v2h-1zM4 8h1v2h-1zM11 8h1v2h-1zM5 10h1v2h-1zM9 10h1v2h-1zM9 14h1v2h-1zM13 14h1v2h-1z"/><path fill="#00ff00" d="M11 0h1v2h-1zM14 0h1v2h-1zM21 0h1v2h-1zM5 2h1v2h-1zM23 2h1v2h-1zM6 4h1v2h-1zM21 4h1v2h-1zM4 6h1v2h-1zM7 6h1v2h-1zM10 6h1v2h-1zM14 6h1v2h-1zM0 8h1v2h-1zM10 8h1v2h-1zM17 8h1v2h-1zM4 10h1v2h-1zM20 10h1v2h-1zM23 10h1v2h-1zM1 12h1v2h-1zM17 12h1v2h-1zM2 14h1v2h-1zM4 14h1v2h-1zM19 14h1v2h-1z"/><path fill="#ffff00" d="M17 0h1v2h-1zM9 2h1v2h-1zM2 8h2v2h-2zM5 8h1v2h-1zM15 8h1v2h-1zM10 10h1v2h-1zM12 10h1v2h-1zM10 12h1v2h-1zM22 12h1v2h-1zM6 14h1v2h-1z"/><path fill="#ff8000" d="M16 2h1v2h-1zM4 4h1v2h-1zM2 10h1v2h-1zM17 10h1v2h-1zM4 12h1v2h-1zM14 12h1v2h-1zM23 12h1v2h-1zM12 14h1v2h-1z"/><path fill="#6060ff" d="M18 2h1v2h-1zM18 6h1v2h-1zM1 8h1v2h-1zM19 12h1v2h-1zM17 14h1v2h-1z"/></pattern><pattern id="p_v_warmw" patternUnits="userSpaceOnUse" width="24" height="16"><rect width="24" height="16" fill="#ffffff"/><path fill="#ff0000" d="M1 0h1v4h-1zM3 0h1v4h-1zM13 0h1v4h-1zM15 0h1v4h-1zM18 0h1v4h-1zM8 4h1v4h-1zM13 4h1v4h-1zM1 8h1v4h-1zM8 8h2v4h-2zM17 8h1v4h-1zM22 8h1v4h-1zM1 12h1v4h-1zM5 12h1v4h-1zM7 12h1v4h-1zM16 12h1v4h-1z"/><path fill="#ffff00" d="M2 0h1v4h-1zM4 0h1v4h-1zM15 4h1v4h-1zM19 12h1v4h-1z"/><path fill="#00ff00" d="M6 0h1v4h-1zM14 0h1v4h-1zM17 4h1v4h-1zM23 4h1v4h-1zM17 12h1v4h-1zM21 12h1v4h-1z"/><path fill="#0000ff" d="M8 0h3v4h-3zM16 0h1v4h-1zM4 4h1v4h-1zM7 4h1v4h-1zM9 4h1v4h-1zM13 8h1v4h-1zM15 12h1v4h-1z"/><path fill="#800080" d="M11 0h1v4h-1zM20 0h2v4h-2zM6 4h1v4h-1zM10 4h1v4h-1zM20 4h1v4h-1zM22 4h1v4h-1zM0 8h1v4h-1zM3 8h1v4h-1zM5 8h1v4h-1zM7 8h1v4h-1zM10 8h1v4h-1zM23 8h1v4h-1zM3 12h2v4h-2zM12 12h1v4h-1zM18 12h1v4h-1z"/><path fill="#ff8000" d="M19 0h1v4h-1zM1 4h2v4h-2zM15 8h2v4h-2zM20 8h1v4h-1zM11 12h1v4h-1zM13 12h1v4h-1z"/></pattern><pattern id="p_v_streakb" patternUnits="userSpaceOnUse" width="24" height="16"><rect width="24" height="16" fill="#ffffff"/><path fill="#0000ff" d="M1 0h3v4h-3zM19 0h1v4h-1zM21 0h1v4h-1zM1 4h2v4h-2zM8 4h1v4h-1zM12 4h1v4h-1zM16 4h2v4h-2zM4 8h1v4h-1zM17 8h1v4h-1zM21 8h1v4h-1zM23 8h1v4h-1zM8 12h1v4h-1zM10 12h1v4h-1zM14 12h1v4h-1zM20 12h1v4h-1z"/><path fill="#6060ff" d="M4 0h1v4h-1zM19 4h1v4h-1zM0 8h1v4h-1zM10 8h1v4h-1zM12 8h1v4h-1zM14 8h1v4h-1zM18 8h1v4h-1zM20 8h1v4h-1zM5 12h1v4h-1zM11 12h1v4h-1zM19 12h1v4h-1zM23 12h1v4h-1z"/><path fill="#00ff00" d="M6 0h1v4h-1zM8 0h1v4h-1zM10 0h1v4h-1zM13 0h1v4h-1zM16 0h2v4h-2zM6 4h1v4h-1zM21 4h1v4h-1zM23 4h1v4h-1zM3 8h1v4h-1zM7 8h1v4h-1zM16 8h1v4h-1zM12 12h2v4h-2zM17 12h1v4h-1zM22 12h1v4h-1z"/><path fill="#c0c0ec" d="M9 0h1v4h-1zM18 0h1v4h-1zM20 0h1v4h-1zM5 4h1v4h-1zM15 4h1v4h-1zM18 4h1v4h-1zM20 4h1v4h-1zM1 8h1v4h-1zM8 8h1v4h-1zM13 8h1v4h-1zM15 8h1v4h-1zM19 8h1v4h-1zM3 12h1v4h-1zM15 12h2v4h-2z"/><path fill="#ffff00" d="M14 0h1v4h-1zM22 0h1v4h-1zM0 4h1v4h-1zM13 4h2v4h-2zM6 8h1v4h-1zM11 8h1v4h-1zM22 8h1v4h-1zM0 12h1v4h-1zM2 12h1v4h-1zM18 12h1v4h-1z"/></pattern><pattern id="p_v_streak" patternUnits="userSpaceOnUse" width="24" height="16"><rect width="24" height="16" fill="#ffffff"/><path fill="#00ff00" d="M0 0h1v4h-1zM5 0h1v4h-1zM9 0h1v4h-1zM11 0h2v4h-2zM14 0h1v4h-1zM17 0h1v4h-1zM21 0h1v4h-1zM7 4h1v4h-1zM12 4h2v4h-2zM15 4h1v4h-1zM20 4h1v4h-1zM0 8h1v4h-1zM3 8h1v4h-1zM7 8h2v4h-2zM14 8h1v4h-1zM16 8h1v4h-1zM19 8h2v4h-2zM23 8h1v4h-1zM0 12h1v4h-1zM6 12h1v4h-1zM12 12h1v4h-1zM20 12h1v4h-1zM23 12h1v4h-1z"/><path fill="#0000ff" d="M1 0h1v4h-1zM10 0h1v4h-1zM16 0h1v4h-1zM20 0h1v4h-1zM22 0h1v4h-1zM1 4h1v4h-1zM10 4h1v4h-1zM5 8h1v4h-1zM11 8h1v4h-1zM13 8h1v4h-1zM17 8h2v4h-2zM21 8h1v4h-1zM4 12h2v4h-2zM17 12h2v4h-2zM22 12h1v4h-1z"/><path fill="#a0ff00" d="M2 0h1v4h-1zM15 0h1v4h-1zM3 4h1v4h-1zM9 4h1v4h-1zM11 4h1v4h-1zM18 4h1v4h-1zM6 8h1v4h-1zM10 8h1v4h-1zM22 8h1v4h-1zM3 12h1v4h-1zM8 12h1v4h-1zM15 12h1v4h-1z"/><path fill="#ffff00" d="M3 0h1v4h-1zM8 0h1v4h-1zM23 0h1v4h-1zM1 8h1v4h-1zM7 12h1v4h-1zM9 12h2v4h-2zM21 12h1v4h-1z"/><path fill="#00b868" d="M6 4h1v4h-1zM14 4h1v4h-1zM16 4h1v4h-1zM23 4h1v4h-1zM9 8h1v4h-1zM15 8h1v4h-1zM1 12h1v4h-1zM14 12h1v4h-1z"/></pattern><pattern id="p_v_streakw" patternUnits="userSpaceOnUse" width="24" height="16"><rect width="24" height="16" fill="#ffffff"/><path fill="#ff8000" d="M0 0h1v4h-1zM7 0h1v4h-1zM10 0h2v4h-2zM22 0h1v4h-1zM2 8h1v4h-1zM5 8h2v4h-2zM14 8h1v4h-1zM0 12h2v4h-2zM9 12h2v4h-2zM13 12h1v4h-1zM22 12h1v4h-1z"/><path fill="#00ff00" d="M1 0h1v4h-1zM3 0h1v4h-1zM8 0h1v4h-1zM12 0h1v4h-1zM17 0h1v4h-1zM0 4h1v4h-1zM2 4h2v4h-2zM7 4h1v4h-1zM10 4h2v4h-2zM13 4h3v4h-3zM17 4h1v4h-1zM0 8h1v4h-1zM7 8h2v4h-2zM11 8h1v4h-1zM13 8h1v4h-1zM18 8h1v4h-1zM20 8h2v4h-2zM2 12h1v4h-1zM5 12h1v4h-1zM11 12h1v4h-1zM14 12h2v4h-2zM17 12h1v4h-1z"/><path fill="#ffff00" d="M2 0h1v4h-1zM5 0h1v4h-1zM14 0h1v4h-1zM19 0h1v4h-1zM20 4h1v4h-1zM22 4h1v4h-1zM3 8h2v4h-2zM10 8h1v4h-1zM12 8h1v4h-1zM17 8h1v4h-1zM23 8h1v4h-1zM6 12h1v4h-1zM8 12h1v4h-1zM20 12h2v4h-2z"/><path fill="#a0ff00" d="M4 0h1v4h-1zM9 0h1v4h-1zM4 4h2v4h-2zM8 4h1v4h-1zM16 4h1v4h-1zM19 4h1v4h-1zM9 8h1v4h-1zM19 8h1v4h-1zM7 12h1v4h-1zM12 12h1v4h-1zM23 12h1v4h-1z"/><path fill="#ff0000" d="M6 0h1v4h-1zM15 0h2v4h-2zM20 0h1v4h-1zM21 4h1v4h-1zM23 4h1v4h-1zM16 8h1v4h-1zM3 12h1v4h-1zM16 12h1v4h-1zM19 12h1v4h-1z"/></pattern><pattern id="p_warmband" patternUnits="userSpaceOnUse" width="24" height="16"><rect width="24" height="16" fill="#ff8000"/><path fill="#ff0000" d="M1 0h1v4h-1zM3 0h2v4h-2zM8 0h1v4h-1zM10 0h1v4h-1zM17 0h1v4h-1zM4 4h1v4h-1zM8 4h1v4h-1zM15 4h1v4h-1zM19 4h1v4h-1zM23 4h1v4h-1zM1 8h1v4h-1zM9 8h2v4h-2zM17 8h1v4h-1zM21 8h2v4h-2zM3 12h2v4h-2zM11 12h1v4h-1zM14 12h1v4h-1zM16 12h1v4h-1zM19 12h2v4h-2zM22 12h2v4h-2z"/><path fill="#00ff00" d="M5 0h1v4h-1zM11 0h1v4h-1zM13 0h1v4h-1zM18 0h2v4h-2zM21 0h1v4h-1zM23 0h1v4h-1zM7 4h1v4h-1zM18 4h1v4h-1zM5 8h1v4h-1zM15 8h1v4h-1zM7 12h1v4h-1z"/><path fill="#ffff00" d="M6 0h2v4h-2zM9 0h1v4h-1zM15 0h1v4h-1zM22 0h1v4h-1zM1 4h3v4h-3zM6 4h1v4h-1zM12 4h1v4h-1zM16 4h1v4h-1zM21 4h1v4h-1zM2 8h1v4h-1zM8 8h1v4h-1zM11 8h1v4h-1zM0 12h3v4h-3zM5 12h1v4h-1zM17 12h2v4h-2z"/><path fill="#800080" d="M12 0h1v4h-1zM16 0h1v4h-1zM20 0h1v4h-1zM14 4h1v4h-1zM3 8h1v4h-1zM13 8h1v4h-1zM16 8h1v4h-1zM19 8h1v4h-1zM9 12h1v4h-1z"/><path fill="#ffc000" d="M13 4h1v4h-1zM8 12h1v4h-1zM10 12h1v4h-1zM12 12h1v4h-1z"/></pattern><pattern id="p_sparseg" patternUnits="userSpaceOnUse" width="24" height="16"><rect width="24" height="16" fill="#ffffff"/><path fill="#00ff00" d="M0 0h1v2h-1zM4 0h1v2h-1zM6 0h2v2h-2zM16 0h3v2h-3zM22 0h1v2h-1zM0 2h1v2h-1zM4 2h2v2h-2zM10 2h3v2h-3zM20 2h2v2h-2zM0 4h3v2h-3zM12 4h3v2h-3zM17 4h1v2h-1zM21 4h1v2h-1zM0 6h1v2h-1zM6 6h2v2h-2zM10 6h1v2h-1zM12 6h2v2h-2zM19 6h1v2h-1zM21 6h1v2h-1zM2 8h1v2h-1zM6 8h1v2h-1zM9 8h2v2h-2zM12 8h1v2h-1zM18 8h2v2h-2zM22 8h2v2h-2zM0 10h1v2h-1zM2 10h1v2h-1zM7 10h3v2h-3zM11 10h1v2h-1zM14 10h1v2h-1zM16 10h1v2h-1zM18 10h1v2h-1zM22 10h1v2h-1zM6 12h2v2h-2zM11 12h1v2h-1zM13 12h1v2h-1zM17 12h1v2h-1zM19 12h1v2h-1zM21 12h1v2h-1zM1 14h1v2h-1zM5 14h1v2h-1zM9 14h1v2h-1zM13 14h3v2h-3z"/><path fill="#00b868" d="M23 0h1v2h-1zM3 2h1v2h-1zM6 2h1v2h-1zM9 4h1v2h-1zM16 4h1v2h-1zM1 6h1v2h-1zM9 6h1v2h-1zM23 6h1v2h-1zM13 8h1v2h-1zM9 12h2v2h-2zM0 14h1v2h-1zM6 14h2v2h-2zM20 14h1v2h-1z"/></pattern><pattern id="p_sparset" patternUnits="userSpaceOnUse" width="24" height="16"><rect width="24" height="16" fill="#ffffff"/><path fill="#00a888" d="M5 0h1v2h-1zM10 0h1v2h-1zM14 0h2v2h-2zM17 0h2v2h-2zM3 2h2v2h-2zM6 2h2v2h-2zM10 2h1v2h-1zM16 2h1v2h-1zM18 2h1v2h-1zM23 2h1v2h-1zM8 4h3v2h-3zM12 4h2v2h-2zM16 4h1v2h-1zM22 4h2v2h-2zM0 6h1v2h-1zM2 6h2v2h-2zM10 6h4v2h-4zM15 6h2v2h-2zM20 6h1v2h-1zM22 6h2v2h-2zM0 8h1v2h-1zM5 8h1v2h-1zM9 8h1v2h-1zM11 8h1v2h-1zM15 8h3v2h-3zM19 8h1v2h-1zM23 8h1v2h-1zM0 10h2v2h-2zM6 10h3v2h-3zM10 10h1v2h-1zM14 10h1v2h-1zM16 10h1v2h-1zM19 10h2v2h-2zM22 10h1v2h-1zM1 12h3v2h-3zM9 12h1v2h-1zM12 12h2v2h-2zM15 12h1v2h-1zM18 12h2v2h-2zM21 12h2v2h-2zM0 14h2v2h-2zM6 14h2v2h-2zM13 14h1v2h-1zM16 14h2v2h-2zM19 14h3v2h-3z"/><path fill="#009098" d="M8 0h1v2h-1zM12 0h1v2h-1zM16 0h1v2h-1zM19 0h1v2h-1zM5 2h1v2h-1zM20 2h1v2h-1zM4 4h1v2h-1zM17 4h1v2h-1zM14 6h1v2h-1zM17 6h1v2h-1zM1 8h1v2h-1zM3 8h1v2h-1zM7 8h1v2h-1zM3 10h1v2h-1zM12 10h1v2h-1zM17 10h1v2h-1zM23 10h1v2h-1zM4 12h2v2h-2zM7 12h1v2h-1zM14 12h1v2h-1zM16 12h1v2h-1zM20 12h1v2h-1zM23 12h1v2h-1zM2 14h2v2h-2zM23 14h1v2h-1z"/></pattern><pattern id="p_v_ground" patternUnits="userSpaceOnUse" width="24" height="16"><rect width="24" height="16" fill="#00ff00"/><path fill="#00b868" d="M0 0h1v2h-1zM16 0h1v2h-1zM1 2h1v2h-1zM15 2h1v2h-1zM19 2h1v2h-1zM15 4h1v2h-1zM1 6h1v2h-1zM2 10h1v2h-1zM7 10h1v2h-1zM9 10h1v2h-1zM12 10h1v2h-1zM16 10h2v2h-2zM6 12h1v2h-1zM23 12h1v2h-1zM4 14h1v2h-1zM12 14h1v2h-1z"/><path fill="#0000ff" d="M2 0h1v2h-1zM6 0h1v2h-1zM9 0h1v2h-1zM13 0h1v2h-1zM15 0h1v2h-1zM17 0h1v2h-1zM19 0h1v2h-1zM3 2h1v2h-1zM12 2h1v2h-1zM16 2h1v2h-1zM18 2h1v2h-1zM23 2h1v2h-1zM0 4h1v2h-1zM2 4h1v2h-1zM9 4h1v2h-1zM13 4h2v2h-2zM17 4h1v2h-1zM23 4h1v2h-1zM0 6h1v2h-1zM8 6h2v2h-2zM15 6h2v2h-2zM23 6h1v2h-1zM8 8h2v2h-2zM13 8h1v2h-1zM0 10h1v2h-1zM5 10h2v2h-2zM11 10h1v2h-1zM15 10h1v2h-1zM23 10h1v2h-1zM2 12h1v2h-1zM7 12h1v2h-1zM16 12h2v2h-2zM19 12h1v2h-1zM21 12h2v2h-2zM0 14h1v2h-1zM2 14h1v2h-1zM6 14h1v2h-1z"/><path fill="#ffff00" d="M5 0h1v2h-1zM12 0h1v2h-1zM20 0h2v2h-2zM7 2h1v2h-1zM4 4h1v2h-1zM21 4h1v2h-1zM14 6h1v2h-1zM18 6h1v2h-1zM12 8h1v2h-1zM16 8h2v2h-2zM10 10h1v2h-1zM18 10h1v2h-1zM8 12h1v2h-1zM10 14h2v2h-2zM19 14h1v2h-1zM22 14h1v2h-1z"/><path fill="#6060ff" d="M8 0h1v2h-1zM0 2h1v2h-1zM17 2h1v2h-1zM21 2h1v2h-1zM1 4h1v2h-1zM3 4h1v2h-1zM8 4h1v2h-1zM11 4h1v2h-1zM5 6h1v2h-1zM20 6h1v2h-1zM22 6h1v2h-1zM6 8h1v2h-1zM20 8h1v2h-1zM20 10h1v2h-1zM0 12h1v2h-1zM3 12h1v2h-1zM20 12h1v2h-1zM7 14h1v2h-1zM13 14h1v2h-1z"/><path fill="#a0ff00" d="M23 0h1v2h-1zM19 4h1v2h-1zM11 8h1v2h-1zM18 8h1v2h-1zM13 10h1v2h-1zM21 10h1v2h-1zM9 12h1v2h-1zM8 14h1v2h-1zM15 14h1v2h-1zM18 14h1v2h-1z"/><path fill="#ffffff" d="M2 2h1v2h-1zM4 2h1v2h-1zM8 2h1v2h-1zM6 4h1v2h-1zM10 6h1v2h-1zM17 6h1v2h-1zM19 6h1v2h-1zM1 8h1v2h-1zM7 8h1v2h-1zM10 8h1v2h-1zM19 8h1v2h-1zM23 8h1v2h-1zM4 12h1v2h-1zM9 14h1v2h-1zM20 14h2v2h-2z"/></pattern><pattern id="p_v_ground2" patternUnits="userSpaceOnUse" width="24" height="16"><rect width="24" height="16" fill="#00ff00"/><path fill="#ffff00" d="M1 0h1v2h-1zM19 0h1v2h-1zM22 0h1v2h-1zM10 2h1v2h-1zM13 2h1v2h-1zM23 2h1v2h-1zM7 4h1v2h-1zM10 4h1v2h-1zM16 4h1v2h-1zM0 6h1v2h-1zM17 6h1v2h-1zM20 6h1v2h-1zM0 8h1v2h-1zM3 8h2v2h-2zM7 8h1v2h-1zM12 8h1v2h-1zM17 8h1v2h-1zM9 10h1v2h-1zM3 12h1v2h-1zM18 12h1v2h-1zM20 12h1v2h-1zM22 12h1v2h-1zM9 14h1v2h-1zM21 14h1v2h-1z"/><path fill="#a0ff00" d="M2 0h1v2h-1zM7 0h1v2h-1zM11 0h1v2h-1zM4 2h2v2h-2zM8 2h1v2h-1zM16 2h1v2h-1zM18 2h1v2h-1zM1 4h1v2h-1zM6 4h1v2h-1zM12 4h1v2h-1zM17 4h1v2h-1zM19 4h1v2h-1zM22 4h2v2h-2zM4 6h1v2h-1zM10 6h1v2h-1zM15 6h1v2h-1zM6 8h1v2h-1zM14 8h1v2h-1zM18 8h1v2h-1zM0 10h1v2h-1zM3 10h1v2h-1zM10 10h1v2h-1zM13 10h1v2h-1zM22 10h1v2h-1zM7 12h1v2h-1zM15 12h1v2h-1zM23 12h1v2h-1zM0 14h1v2h-1zM15 14h1v2h-1zM23 14h1v2h-1z"/><path fill="#00b868" d="M12 0h1v2h-1zM15 0h2v2h-2zM12 2h1v2h-1zM11 6h1v2h-1zM22 6h1v2h-1zM22 8h2v2h-2zM6 10h1v2h-1zM19 10h1v2h-1zM12 12h1v2h-1zM19 12h1v2h-1zM3 14h1v2h-1zM10 14h1v2h-1z"/><path fill="#0000ff" d="M18 0h1v2h-1zM20 0h2v2h-2zM9 2h1v2h-1zM17 2h1v2h-1zM15 4h1v2h-1zM3 6h1v2h-1zM13 6h2v2h-2zM5 8h1v2h-1zM11 8h1v2h-1zM16 8h1v2h-1zM20 8h2v2h-2zM2 10h1v2h-1zM15 10h1v2h-1zM17 10h1v2h-1zM8 12h2v2h-2zM6 14h1v2h-1zM13 14h1v2h-1zM16 14h1v2h-1zM18 14h1v2h-1z"/><path fill="#ff8000" d="M7 2h1v2h-1zM20 2h2v2h-2zM2 4h2v2h-2zM8 6h2v2h-2zM12 6h1v2h-1zM8 8h1v2h-1zM19 8h1v2h-1zM14 10h1v2h-1zM4 12h1v2h-1zM5 14h1v2h-1zM19 14h1v2h-1z"/><path fill="#ffffff" d="M1 6h1v2h-1zM23 6h1v2h-1zM7 10h1v2h-1zM16 12h2v2h-2zM12 14h1v2h-1zM20 14h1v2h-1z"/></pattern><pattern id="p_v_gmix" patternUnits="userSpaceOnUse" width="24" height="16"><rect width="24" height="16" fill="#0000ff"/><path fill="#ff0000" d="M0 0h1v2h-1zM6 2h1v2h-1zM20 2h1v2h-1zM2 6h1v2h-1zM4 6h1v2h-1zM6 6h1v2h-1zM19 6h1v2h-1zM0 8h1v2h-1zM19 8h2v2h-2zM1 10h1v2h-1zM5 10h1v2h-1zM12 10h1v2h-1zM16 10h1v2h-1zM18 10h1v2h-1zM23 10h1v2h-1zM3 12h1v2h-1zM12 12h1v2h-1zM14 12h1v2h-1zM17 12h1v2h-1z"/><path fill="#ff8000" d="M1 0h1v2h-1zM13 0h1v2h-1zM19 0h1v2h-1zM14 2h1v2h-1zM20 4h1v2h-1zM22 4h1v2h-1zM17 6h1v2h-1zM13 8h1v2h-1zM4 10h1v2h-1zM9 10h1v2h-1zM13 10h2v2h-2zM17 10h1v2h-1zM15 12h1v2h-1zM0 14h1v2h-1zM2 14h1v2h-1z"/><path fill="#6060ff" d="M2 0h1v2h-1zM21 0h1v2h-1zM17 4h1v2h-1zM14 6h1v2h-1zM9 8h1v2h-1zM23 8h1v2h-1zM0 10h1v2h-1zM15 10h1v2h-1zM11 14h1v2h-1z"/><path fill="#c0c0ec" d="M4 0h2v2h-2zM16 0h1v2h-1zM20 0h1v2h-1zM0 2h1v2h-1zM4 2h1v2h-1zM8 2h1v2h-1zM10 2h3v2h-3zM19 2h1v2h-1zM23 2h1v2h-1zM0 4h2v2h-2zM8 4h1v2h-1zM16 4h1v2h-1zM1 6h1v2h-1zM5 6h1v2h-1zM9 6h1v2h-1zM1 8h2v2h-2zM6 8h1v2h-1zM8 8h1v2h-1zM2 10h1v2h-1zM7 10h1v2h-1zM21 10h1v2h-1zM23 12h1v2h-1zM6 14h1v2h-1z"/><path fill="#00ff00" d="M11 0h1v2h-1zM5 2h1v2h-1zM13 2h1v2h-1zM18 2h1v2h-1zM5 4h1v2h-1zM7 4h1v2h-1zM10 4h2v2h-2zM3 6h1v2h-1zM16 6h1v2h-1zM18 6h1v2h-1zM23 6h1v2h-1zM22 8h1v2h-1zM11 10h1v2h-1zM19 10h1v2h-1zM5 12h2v2h-2zM1 14h1v2h-1zM4 14h2v2h-2zM8 14h1v2h-1zM16 14h1v2h-1zM20 14h1v2h-1zM22 14h1v2h-1z"/><path fill="#ffff00" d="M14 0h1v2h-1zM21 2h1v2h-1zM14 4h2v2h-2zM21 4h1v2h-1zM7 6h2v2h-2zM20 6h1v2h-1zM22 6h1v2h-1zM10 8h1v2h-1zM22 10h1v2h-1zM2 12h1v2h-1zM4 12h1v2h-1zM3 14h1v2h-1zM9 14h1v2h-1zM17 14h1v2h-1z"/><path fill="#800080" d="M15 0h1v2h-1zM2 2h1v2h-1zM17 2h1v2h-1zM19 4h1v2h-1zM10 6h1v2h-1zM20 10h1v2h-1zM10 14h1v2h-1zM18 14h1v2h-1z"/><path fill="#ffffff" d="M17 0h1v2h-1zM22 0h2v2h-2zM15 2h2v2h-2zM12 4h1v2h-1zM23 4h1v2h-1zM15 6h1v2h-1zM21 6h1v2h-1zM5 8h1v2h-1zM12 8h1v2h-1zM17 8h1v2h-1zM21 8h1v2h-1zM6 10h1v2h-1zM8 12h2v2h-2zM18 12h4v2h-4zM7 14h1v2h-1zM13 14h1v2h-1z"/></pattern><pattern id="p_v_green" patternUnits="userSpaceOnUse" width="24" height="16"><rect width="24" height="16" fill="#00ff00"/><path fill="#a0ff00" d="M1 0h1v2h-1zM3 0h1v2h-1zM6 0h1v2h-1zM8 0h1v2h-1zM10 0h1v2h-1zM0 2h1v2h-1zM5 2h1v2h-1zM10 2h1v2h-1zM18 2h1v2h-1zM22 2h1v2h-1zM6 4h2v2h-2zM11 4h1v2h-1zM14 4h1v2h-1zM17 4h1v2h-1zM0 6h1v2h-1zM18 6h1v2h-1zM6 8h1v2h-1zM13 8h1v2h-1zM17 8h1v2h-1zM11 10h1v2h-1zM16 10h1v2h-1zM19 10h1v2h-1zM1 12h1v2h-1zM9 12h1v2h-1zM14 12h1v2h-1zM20 12h1v2h-1zM9 14h1v2h-1zM12 14h1v2h-1zM20 14h1v2h-1zM22 14h1v2h-1z"/><path fill="#ffff00" d="M5 0h1v2h-1zM7 0h1v2h-1zM15 0h1v2h-1zM6 2h1v2h-1zM13 2h1v2h-1zM21 2h1v2h-1zM12 4h1v2h-1zM23 4h1v2h-1zM16 6h2v2h-2zM19 6h1v2h-1zM21 6h1v2h-1zM7 8h1v2h-1zM19 8h1v2h-1zM21 8h1v2h-1zM2 10h2v2h-2zM22 10h1v2h-1zM0 12h1v2h-1zM17 12h3v2h-3zM4 14h1v2h-1zM14 14h1v2h-1zM16 14h1v2h-1z"/><path fill="#00b868" d="M14 0h1v2h-1zM20 0h1v2h-1zM3 2h1v2h-1zM11 2h2v2h-2zM17 2h1v2h-1zM19 2h1v2h-1zM3 4h1v2h-1zM13 4h1v2h-1zM18 4h1v2h-1zM5 6h1v2h-1zM9 6h1v2h-1zM14 6h2v2h-2zM0 8h1v2h-1zM5 8h1v2h-1zM12 8h1v2h-1zM18 8h1v2h-1zM4 10h1v2h-1zM9 10h1v2h-1zM12 10h1v2h-1zM15 10h1v2h-1zM5 12h1v2h-1zM7 12h2v2h-2zM11 12h1v2h-1zM13 12h1v2h-1zM15 12h1v2h-1zM1 14h2v2h-2zM5 14h1v2h-1zM7 14h1v2h-1zM17 14h1v2h-1zM19 14h1v2h-1z"/><path fill="#0000ff" d="M23 0h1v2h-1zM2 2h1v2h-1zM16 2h1v2h-1zM2 4h1v2h-1zM9 4h1v2h-1zM3 6h1v2h-1zM1 8h1v2h-1zM4 8h1v2h-1zM18 10h1v2h-1zM23 10h1v2h-1zM0 14h1v2h-1zM3 14h1v2h-1zM11 14h1v2h-1zM21 14h1v2h-1z"/></pattern><pattern id="p_v_blue" patternUnits="userSpaceOnUse" width="24" height="16"><rect width="24" height="16" fill="#0000ff"/><path fill="#00ff00" d="M0 0h1v2h-1zM19 0h3v2h-3zM5 2h1v2h-1zM12 2h1v2h-1zM7 4h1v2h-1zM16 4h1v2h-1zM20 4h1v2h-1zM0 6h1v2h-1zM7 6h1v2h-1zM14 6h2v2h-2zM8 8h2v2h-2zM12 8h1v2h-1zM22 8h1v2h-1zM1 10h1v2h-1zM9 10h1v2h-1zM11 10h1v2h-1zM21 10h2v2h-2zM4 12h1v2h-1zM17 12h1v2h-1zM22 12h1v2h-1zM3 14h1v2h-1zM10 14h3v2h-3z"/><path fill="#c0c0ec" d="M2 0h1v2h-1zM10 0h1v2h-1zM0 2h2v2h-2zM8 2h1v2h-1zM14 2h1v2h-1zM19 2h1v2h-1zM5 4h1v2h-1zM10 4h1v2h-1zM18 4h1v2h-1zM1 6h1v2h-1zM8 6h1v2h-1zM10 6h1v2h-1zM3 8h1v2h-1zM5 14h1v2h-1z"/><path fill="#ffffff" d="M6 0h1v2h-1zM3 2h1v2h-1zM23 2h1v2h-1zM0 4h1v2h-1zM22 4h1v2h-1zM4 6h1v2h-1zM13 6h1v2h-1zM6 8h1v2h-1zM4 10h1v2h-1zM18 10h1v2h-1zM9 12h1v2h-1zM11 12h1v2h-1zM15 12h1v2h-1zM19 12h1v2h-1zM2 14h1v2h-1zM19 14h1v2h-1z"/><path fill="#6060ff" d="M8 0h1v2h-1zM11 0h1v2h-1zM14 0h1v2h-1zM16 0h1v2h-1zM23 0h1v2h-1zM10 2h1v2h-1zM16 2h1v2h-1zM4 4h1v2h-1zM23 4h1v2h-1zM2 6h1v2h-1zM9 6h1v2h-1zM17 6h2v2h-2zM2 8h1v2h-1zM4 8h1v2h-1zM11 8h1v2h-1zM14 8h1v2h-1zM20 8h2v2h-2zM23 8h1v2h-1zM2 10h1v2h-1zM5 10h1v2h-1zM7 10h1v2h-1zM14 10h1v2h-1zM19 10h2v2h-2zM23 10h1v2h-1zM0 12h1v2h-1zM6 12h1v2h-1zM10 12h1v2h-1zM0 14h1v2h-1zM9 14h1v2h-1zM13 14h2v2h-2zM16 14h2v2h-2z"/><path fill="#2020e0" d="M13 0h1v2h-1zM2 2h1v2h-1zM6 2h1v2h-1zM13 2h1v2h-1zM21 2h1v2h-1zM2 4h2v2h-2zM13 4h1v2h-1zM17 4h1v2h-1zM3 6h1v2h-1zM12 6h1v2h-1zM22 6h2v2h-2zM3 10h1v2h-1zM16 10h1v2h-1zM20 12h1v2h-1z"/></pattern><pattern id="p_v_blueg" patternUnits="userSpaceOnUse" width="24" height="16"><rect width="24" height="16" fill="#0000ff"/><path fill="#00ff00" d="M0 0h1v2h-1zM3 0h5v2h-5zM10 0h1v2h-1zM17 0h3v2h-3zM0 2h2v2h-2zM3 2h1v2h-1zM9 2h2v2h-2zM12 2h1v2h-1zM20 2h1v2h-1zM1 4h1v2h-1zM3 4h1v2h-1zM5 4h2v2h-2zM10 4h1v2h-1zM13 4h2v2h-2zM19 4h1v2h-1zM0 6h1v2h-1zM4 6h1v2h-1zM6 6h1v2h-1zM9 6h1v2h-1zM13 6h2v2h-2zM17 6h1v2h-1zM22 6h1v2h-1zM0 8h1v2h-1zM4 8h1v2h-1zM12 8h1v2h-1zM14 8h1v2h-1zM16 8h1v2h-1zM20 8h1v2h-1zM1 10h1v2h-1zM6 10h1v2h-1zM10 10h1v2h-1zM17 10h1v2h-1zM19 10h1v2h-1zM21 10h1v2h-1zM23 10h1v2h-1zM0 12h5v2h-5zM7 12h4v2h-4zM12 12h1v2h-1zM17 12h1v2h-1zM20 12h2v2h-2zM23 12h1v2h-1zM2 14h1v2h-1zM5 14h2v2h-2zM8 14h1v2h-1zM14 14h1v2h-1zM16 14h1v2h-1zM20 14h1v2h-1zM23 14h1v2h-1z"/><path fill="#6060ff" d="M1 0h1v2h-1zM14 0h1v2h-1zM23 0h1v2h-1zM0 4h1v2h-1zM18 6h1v2h-1zM21 6h1v2h-1zM8 8h1v2h-1zM0 10h1v2h-1zM3 10h1v2h-1zM11 10h1v2h-1zM15 10h2v2h-2zM16 12h1v2h-1zM1 14h1v2h-1zM13 14h1v2h-1z"/><path fill="#00b868" d="M12 0h1v2h-1zM20 0h1v2h-1zM22 0h1v2h-1zM19 2h1v2h-1zM8 4h2v2h-2zM12 4h1v2h-1zM22 4h1v2h-1zM2 6h1v2h-1zM5 6h1v2h-1zM16 6h1v2h-1zM2 8h2v2h-2zM7 8h1v2h-1zM13 8h1v2h-1zM15 8h1v2h-1zM17 8h1v2h-1zM23 8h1v2h-1zM4 10h1v2h-1zM7 10h1v2h-1zM14 12h2v2h-2zM0 14h1v2h-1zM3 14h1v2h-1zM9 14h2v2h-2zM15 14h1v2h-1zM17 14h1v2h-1z"/><path fill="#ffff00" d="M2 2h1v2h-1zM13 2h1v2h-1zM18 2h1v2h-1zM16 4h1v2h-1zM23 4h1v2h-1zM10 6h2v2h-2zM20 6h1v2h-1zM5 8h1v2h-1zM19 8h1v2h-1zM12 10h1v2h-1zM14 10h1v2h-1zM18 10h1v2h-1zM20 10h1v2h-1zM19 12h1v2h-1zM22 14h1v2h-1z"/></pattern><pattern id="p_v_yellow" patternUnits="userSpaceOnUse" width="24" height="16"><rect width="24" height="16" fill="#ffff00"/><path fill="#00ff00" d="M0 0h1v2h-1zM12 2h1v2h-1zM21 2h2v2h-2zM1 4h2v2h-2zM8 4h2v2h-2zM13 4h3v2h-3zM3 6h1v2h-1zM15 6h1v2h-1zM18 6h1v2h-1zM10 8h1v2h-1zM13 8h1v2h-1zM16 8h1v2h-1zM0 10h2v2h-2zM7 10h2v2h-2zM18 10h2v2h-2zM7 12h2v2h-2zM13 12h2v2h-2zM16 12h1v2h-1zM18 12h1v2h-1zM20 12h1v2h-1zM22 12h1v2h-1zM1 14h1v2h-1zM4 14h3v2h-3zM8 14h1v2h-1zM12 14h1v2h-1zM18 14h1v2h-1zM20 14h1v2h-1z"/><path fill="#ff0000" d="M1 0h1v2h-1zM19 0h1v2h-1zM23 0h1v2h-1zM9 2h1v2h-1zM6 4h1v2h-1zM21 4h1v2h-1zM23 4h1v2h-1zM11 6h1v2h-1zM1 8h1v2h-1zM14 8h1v2h-1zM4 10h1v2h-1zM14 10h1v2h-1zM6 12h1v2h-1zM16 14h1v2h-1zM22 14h2v2h-2z"/><path fill="#ff8000" d="M2 0h1v2h-1zM6 0h2v2h-2zM12 0h4v2h-4zM0 2h1v2h-1zM2 2h2v2h-2zM6 2h1v2h-1zM19 2h1v2h-1zM5 4h1v2h-1zM1 6h1v2h-1zM6 6h2v2h-2zM9 6h1v2h-1zM16 6h2v2h-2zM20 6h1v2h-1zM23 6h1v2h-1zM12 8h1v2h-1zM19 8h1v2h-1zM21 8h1v2h-1zM11 10h1v2h-1zM23 10h1v2h-1zM1 12h1v2h-1zM3 12h1v2h-1zM7 14h1v2h-1zM11 14h1v2h-1zM13 14h1v2h-1zM17 14h1v2h-1z"/><path fill="#a0ff00" d="M4 0h1v2h-1zM8 0h2v2h-2zM11 0h1v2h-1zM16 0h3v2h-3zM1 2h1v2h-1zM4 2h1v2h-1zM7 2h1v2h-1zM10 2h2v2h-2zM15 2h2v2h-2zM18 2h1v2h-1zM20 2h1v2h-1zM10 4h1v2h-1zM12 4h1v2h-1zM18 4h3v2h-3zM4 6h1v2h-1zM10 6h1v2h-1zM13 6h1v2h-1zM19 6h1v2h-1zM0 8h1v2h-1zM3 8h1v2h-1zM8 8h2v2h-2zM17 8h2v2h-2zM22 8h2v2h-2zM5 10h1v2h-1zM9 10h2v2h-2zM12 10h2v2h-2zM15 10h2v2h-2zM20 10h2v2h-2zM0 12h1v2h-1zM2 12h1v2h-1zM9 12h2v2h-2zM21 12h1v2h-1zM0 14h1v2h-1zM3 14h1v2h-1zM10 14h1v2h-1zM14 14h2v2h-2z"/></pattern><pattern id="p_v_warm" patternUnits="userSpaceOnUse" width="24" height="16"><rect width="24" height="16" fill="#ff0000"/><path fill="#ffff00" d="M0 0h1v2h-1zM10 0h1v2h-1zM20 0h1v2h-1zM6 2h1v2h-1zM10 2h1v2h-1zM15 2h1v2h-1zM18 2h1v2h-1zM20 2h1v2h-1zM1 4h1v2h-1zM4 4h1v2h-1zM13 4h2v2h-2zM19 4h2v2h-2zM3 6h1v2h-1zM5 6h1v2h-1zM10 6h1v2h-1zM17 6h1v2h-1zM21 6h2v2h-2zM0 8h1v2h-1zM3 8h2v2h-2zM7 8h1v2h-1zM6 10h1v2h-1zM10 10h1v2h-1zM12 10h1v2h-1zM15 10h1v2h-1zM19 10h2v2h-2zM23 10h1v2h-1zM13 12h2v2h-2zM20 12h2v2h-2zM1 14h1v2h-1zM11 14h1v2h-1zM18 14h1v2h-1z"/><path fill="#800080" d="M2 0h1v2h-1zM4 0h1v2h-1zM7 0h1v2h-1zM9 0h1v2h-1zM12 0h1v2h-1zM14 0h1v2h-1zM3 2h1v2h-1zM9 2h1v2h-1zM16 2h1v2h-1zM2 4h1v2h-1zM15 4h1v2h-1zM7 6h1v2h-1zM19 6h1v2h-1zM2 8h1v2h-1zM5 8h1v2h-1zM15 8h1v2h-1zM1 10h1v2h-1zM1 12h2v2h-2zM12 14h1v2h-1zM16 14h1v2h-1z"/><path fill="#ff8000" d="M5 0h1v2h-1zM8 0h1v2h-1zM11 0h1v2h-1zM15 0h1v2h-1zM17 0h1v2h-1zM5 2h1v2h-1zM14 2h1v2h-1zM19 2h1v2h-1zM21 2h1v2h-1zM5 4h1v2h-1zM9 4h3v2h-3zM16 4h1v2h-1zM18 4h1v2h-1zM21 4h2v2h-2zM1 6h2v2h-2zM6 6h1v2h-1zM11 6h3v2h-3zM15 6h1v2h-1zM20 6h1v2h-1zM6 8h1v2h-1zM11 8h2v2h-2zM16 8h1v2h-1zM19 8h1v2h-1zM21 8h3v2h-3zM0 10h1v2h-1zM7 10h2v2h-2zM11 10h1v2h-1zM14 10h1v2h-1zM16 10h2v2h-2zM22 10h1v2h-1zM8 12h1v2h-1zM10 12h3v2h-3zM18 12h1v2h-1zM2 14h1v2h-1zM4 14h2v2h-2zM8 14h3v2h-3zM13 14h1v2h-1zM15 14h1v2h-1zM17 14h1v2h-1zM19 14h3v2h-3zM23 14h1v2h-1z"/><path fill="#b00048" d="M1 2h2v2h-2zM4 2h1v2h-1zM8 2h1v2h-1zM13 2h1v2h-1zM23 2h1v2h-1zM8 4h1v2h-1zM0 6h1v2h-1zM8 8h1v2h-1zM3 10h1v2h-1zM22 12h1v2h-1zM3 14h1v2h-1zM7 14h1v2h-1z"/></pattern><pattern id="p_v_lav" patternUnits="userSpaceOnUse" width="24" height="16"><rect width="24" height="16" fill="#c0c0ec"/><path fill="#ffffff" d="M0 0h1v2h-1zM3 0h1v2h-1zM8 0h1v2h-1zM12 0h2v2h-2zM0 2h1v2h-1zM2 2h1v2h-1zM5 2h1v2h-1zM7 2h1v2h-1zM11 2h1v2h-1zM3 4h1v2h-1zM5 4h1v2h-1zM10 4h1v2h-1zM13 4h1v2h-1zM4 6h1v2h-1zM9 6h1v2h-1zM22 6h1v2h-1zM2 8h1v2h-1zM4 8h1v2h-1zM9 8h1v2h-1zM12 8h1v2h-1zM14 8h1v2h-1zM1 10h1v2h-1zM7 10h1v2h-1zM17 10h1v2h-1zM22 10h1v2h-1zM1 12h1v2h-1zM7 12h1v2h-1zM13 12h1v2h-1zM20 12h2v2h-2zM5 14h1v2h-1zM8 14h1v2h-1zM10 14h2v2h-2zM13 14h2v2h-2zM16 14h1v2h-1zM20 14h4v2h-4z"/><path fill="#0000ff" d="M4 0h1v2h-1zM9 2h1v2h-1zM20 2h1v2h-1zM0 4h1v2h-1zM18 4h2v2h-2zM1 6h1v2h-1zM6 6h1v2h-1zM6 8h1v2h-1zM10 10h1v2h-1zM12 10h4v2h-4zM20 10h1v2h-1zM16 12h1v2h-1zM3 14h2v2h-2zM6 14h1v2h-1zM12 14h1v2h-1z"/><path fill="#6060ff" d="M6 0h2v2h-2zM9 0h1v2h-1zM15 0h3v2h-3zM21 0h1v2h-1zM4 2h1v2h-1zM15 2h1v2h-1zM18 2h1v2h-1zM2 4h1v2h-1zM9 4h1v2h-1zM16 4h1v2h-1zM21 4h1v2h-1zM3 6h1v2h-1zM13 6h1v2h-1zM20 6h1v2h-1zM8 8h1v2h-1zM13 8h1v2h-1zM16 8h1v2h-1zM20 8h1v2h-1zM23 8h1v2h-1zM2 10h1v2h-1zM5 10h2v2h-2zM18 10h1v2h-1zM21 10h1v2h-1zM23 10h1v2h-1zM4 12h1v2h-1zM6 12h1v2h-1zM9 12h1v2h-1zM11 12h2v2h-2zM22 12h1v2h-1zM0 14h2v2h-2zM7 14h1v2h-1zM17 14h1v2h-1z"/></pattern><pattern id="p_v_sparse" patternUnits="userSpaceOnUse" width="24" height="16"><rect width="24" height="16" fill="#ffffff"/><path fill="#00ff00" d="M0 0h2v2h-2zM3 0h1v2h-1zM5 0h2v2h-2zM15 0h1v2h-1zM18 0h1v2h-1zM21 0h1v2h-1zM1 2h2v2h-2zM12 2h1v2h-1zM14 2h1v2h-1zM20 2h1v2h-1zM0 4h1v2h-1zM12 4h1v2h-1zM0 6h1v2h-1zM6 6h2v2h-2zM15 6h1v2h-1zM17 6h2v2h-2zM20 6h1v2h-1zM13 8h1v2h-1zM15 8h3v2h-3zM1 10h1v2h-1zM5 10h1v2h-1zM10 10h1v2h-1zM14 10h1v2h-1zM19 10h1v2h-1zM15 12h1v2h-1zM2 14h1v2h-1zM5 14h1v2h-1zM7 14h1v2h-1z"/><path fill="#0000ff" d="M4 0h1v2h-1zM8 0h1v2h-1zM10 0h1v2h-1zM12 0h3v2h-3zM16 0h2v2h-2zM20 0h1v2h-1zM23 0h1v2h-1zM0 2h1v2h-1zM6 2h2v2h-2zM9 2h1v2h-1zM22 2h2v2h-2zM9 4h1v2h-1zM11 4h1v2h-1zM13 4h1v2h-1zM23 4h1v2h-1zM3 6h1v2h-1zM9 6h1v2h-1zM22 6h1v2h-1zM0 8h1v2h-1zM4 8h2v2h-2zM7 8h1v2h-1zM10 8h1v2h-1zM14 8h1v2h-1zM18 8h1v2h-1zM2 10h2v2h-2zM7 10h1v2h-1zM9 10h1v2h-1zM22 10h1v2h-1zM2 12h1v2h-1zM4 12h2v2h-2zM8 12h1v2h-1zM3 14h1v2h-1zM10 14h3v2h-3zM16 14h1v2h-1zM21 14h1v2h-1zM23 14h1v2h-1z"/><path fill="#ffff00" d="M5 2h1v2h-1zM18 2h1v2h-1zM21 2h1v2h-1zM20 4h2v2h-2zM8 6h1v2h-1zM12 6h1v2h-1zM19 6h1v2h-1zM21 6h1v2h-1zM6 8h1v2h-1zM9 8h1v2h-1zM6 10h1v2h-1zM8 10h1v2h-1zM9 12h1v2h-1zM16 12h2v2h-2zM21 12h1v2h-1zM23 12h1v2h-1zM14 14h1v2h-1zM22 14h1v2h-1z"/></pattern><pattern id="p_v_sparseb" patternUnits="userSpaceOnUse" width="24" height="16"><rect width="24" height="16" fill="#ffffff"/><path fill="#6060ff" d="M0 0h1v2h-1zM8 0h1v2h-1zM12 0h1v2h-1zM17 4h1v2h-1zM21 4h1v2h-1zM8 6h2v2h-2zM11 6h1v2h-1zM19 6h1v2h-1zM4 8h2v2h-2zM8 8h1v2h-1zM17 8h1v2h-1zM19 8h2v2h-2zM23 8h1v2h-1zM8 10h2v2h-2zM13 10h1v2h-1zM19 10h1v2h-1zM0 12h1v2h-1zM4 12h2v2h-2zM12 12h2v2h-2zM18 12h1v2h-1zM23 12h1v2h-1zM1 14h3v2h-3zM8 14h1v2h-1zM11 14h2v2h-2zM18 14h1v2h-1zM23 14h1v2h-1z"/><path fill="#0000ff" d="M2 0h1v2h-1zM6 0h2v2h-2zM10 0h1v2h-1zM15 0h5v2h-5zM22 0h1v2h-1zM1 2h1v2h-1zM4 2h1v2h-1zM7 2h2v2h-2zM11 2h1v2h-1zM17 2h1v2h-1zM20 2h1v2h-1zM1 4h2v2h-2zM4 4h1v2h-1zM7 4h1v2h-1zM10 4h1v2h-1zM13 4h3v2h-3zM19 4h2v2h-2zM23 4h1v2h-1zM0 6h1v2h-1zM2 6h1v2h-1zM4 6h2v2h-2zM10 6h1v2h-1zM12 6h1v2h-1zM18 6h1v2h-1zM20 6h2v2h-2zM23 6h1v2h-1zM0 8h2v2h-2zM11 8h3v2h-3zM16 8h1v2h-1zM0 10h1v2h-1zM5 10h1v2h-1zM7 10h1v2h-1zM15 10h1v2h-1zM21 10h1v2h-1zM2 12h1v2h-1zM6 12h1v2h-1zM9 12h1v2h-1zM11 12h1v2h-1zM19 12h2v2h-2zM4 14h1v2h-1zM9 14h2v2h-2zM15 14h3v2h-3zM21 14h1v2h-1z"/></pattern><filter id="rough" filterUnits="userSpaceOnUse" x="40" y="30" width="670" height="520"><feTurbulence type="fractalNoise" baseFrequency="0.5 0.1" numOctaves="2" seed="5" result="n"/><feDisplacementMap in="SourceGraphic" in2="n" scale="9" xChannelSelector="R" yChannelSelector="G"/></filter></defs>
<g clip-path="url(#clip1)"><g filter="url(#rough)"><polygon points="45,223 54,222 56,230 58,242 61,252 63,262 63,275 45,275" fill="url(#p_green)"/>
<polygon points="45,230 53.5,229 56,240 59,252 60,260 52,261" fill="url(#p_plume)"/>
<polygon points="51.5,238 54,238 55.5,246 58.5,256 57.5,260 55,258 52,250" fill="url(#p_red)"/>
<rect x="53" y="244" width="1.5" height="4" fill="#800080"/>
<rect x="45" y="261" width="18" height="14" fill="url(#p_tealg)"/>
<polygon points="63,222 68,220 72,228 73,240 72,262 64,262 63,245" fill="url(#p_green)"/>
<polygon points="65,227 69,225 71,232 71,250 70,260 66,260 65,245" fill="url(#p_plume)"/>
<polygon points="66,236 70,232 71,245 69,256 66,256" fill="url(#p_plumer)"/>
<polygon points="70,233 72,235 70,252 67,252" fill="url(#p_red)"/>
<rect x="65.5" y="224" width="2.5" height="3" fill="#800080"/>
<rect x="70" y="240" width="1.5" height="3" fill="#800080"/>
<polygon points="74,216 77,206 78,200 81.5,200 82,215 81,255 75,256 74,240" fill="url(#p_plumeg)"/>
<polygon points="75,222 78,208 80.5,210 80,245 76,248" fill="url(#p_yellow)"/>
<polygon points="77,222 79,212 80,216 79,235 77,238" fill="url(#p_orange)"/>
<rect x="78.5" y="201" width="2.5" height="10" fill="url(#p_plumer)"/>
<polygon points="76,246 77,236 78,238 77.5,250" fill="url(#p_red)"/>
<rect x="67.6" y="206" width="1.4" height="11" fill="url(#p_greeny)"/>
<rect x="66" y="267" width="1.5" height="8" fill="#ff0000"/>
<polygon points="72,257 80,256 88,256 92,254 94,249 98,249 100,251 105,253 109,254 109,275 72,275" fill="url(#p_teal)"/>
<polygon points="100,249 103,248 104.7,252 104.7,275 100,275" fill="url(#p_green)"/>
<polygon points="100.5,253 102.5,252 103,262 101,264" fill="url(#p_yellow)"/>
<rect x="100.5" y="255" width="1.5" height="6.5" fill="#ff0000"/>
<rect x="105" y="246" width="1" height="5" fill="url(#p_green)"/>
<polygon points="110,261 113.6,264 110,267" fill="url(#p_teal)"/>
<rect x="106.8" y="182" width="1.2" height="2" fill="#ff8000"/>
<rect x="105" y="185" width="1.5" height="2" fill="#ff0000"/>
<polygon points="104,189 107,188 107.5,203 104,203" fill="url(#p_orange)"/>
<rect x="105" y="192" width="1.5" height="8" fill="#ff0000"/>
<rect x="103" y="194" width="3.5" height="13" fill="url(#p_yellow)"/>
<rect x="103" y="207" width="3" height="10.5" fill="url(#p_greeny)"/>
<rect x="105" y="217.5" width="1" height="1.5" fill="#ffff00"/>
<polygon points="115,261 126,260.5 126,258 131,258 131,254 136,253.7 136,275 115,275" fill="url(#p_teal)"/>
<polygon points="136.5,228 138,214 140,214 141,230 141.5,275 136.5,275" fill="url(#p_plumeg)"/>
<rect x="138" y="214" width="1.5" height="6" fill="url(#p_orange)"/>
<polygon points="137.5,232 138.5,222 139.5,222 140,240 139,258 137.5,256" fill="url(#p_plume)"/>
<rect x="137" y="254" width="1.5" height="8" fill="#ff0000"/>
<rect x="137.5" y="259" width="1" height="2" fill="#800080"/>
<polygon points="141.5,254 146,253 149,256 149,275 141.5,275" fill="url(#p_tealg)"/>
<polygon points="159.5,256 161,252 163,250.5 166,250.5 173.6,255.7 173.6,275 159.5,275" fill="url(#p_teal)"/>
<polygon points="174,245 175.5,240 177,240 180,246 182.6,252 183,262 186,265 186,275 174,275" fill="url(#p_green)"/>
<polygon points="175,250 178,248 180,255 180,266 175,266" fill="url(#p_yellow)"/>
<rect x="175" y="255.7" width="2.5" height="9.1" fill="#ff0000"/>
<rect x="175.5" y="259" width="1.5" height="2.5" fill="#800080"/>
<polygon points="194.3,253 205,252 205,275 194.3,275" fill="url(#p_teal)"/>
<polygon points="195.5,245 198,235 202,235 203.3,245 203.3,254 195.5,254" fill="url(#p_greeny)"/>
<polygon points="200,240 202,235 205,238 205,255 200,255" fill="url(#p_green)"/>
<polygon points="204,251 210,250 218,246 222,245 230,244 236,245 238.8,246 238.8,275 204,275" fill="url(#p_teal)"/>
<polygon points="218,247 222,245 230,244 236,245 238.8,246 238.8,258 218,258" fill="url(#p_tealg)"/>
<polygon points="212,262 216,259.6 224.5,261 224,268.6 212,268.6" fill="#ffffff"/>
<polygon points="205,266 210,264 212,268.6 205,268.6" fill="#ffffff"/>
<polygon points="238.8,232 240,224 243,222 246,224 248,230 249.7,245 249.7,275 238.8,275" fill="url(#p_green)"/>
<polygon points="239.5,232 242,226 245,228 248,245 248,268 240,268" fill="url(#p_yellow)"/>
<polygon points="240.5,236 243,232 246,245 245,260 241,255" fill="url(#p_orange)"/>
<rect x="240" y="229" width="3.5" height="10" fill="url(#p_plumer)"/>
<rect x="242.6" y="252" width="3.3" height="15" fill="url(#p_plumer)"/>
<rect x="243.5" y="259" width="1.5" height="4" fill="#800080"/>
<polygon points="251.7,225 252.5,212 253.5,207 255,210 257,222 259.4,240 259.4,268 252,268" fill="url(#p_green)"/>
<polygon points="252.5,222 255,216 257,228 258,250 253,250" fill="url(#p_yellow)"/>
<rect x="252.3" y="227" width="4.5" height="22" fill="url(#p_orange)"/>
<rect x="253.5" y="230" width="2" height="15" fill="#ff0000"/>
<polygon points="259.4,260 263,262 264,275 259.4,275" fill="url(#p_teal)"/>
<polygon points="262,265 266.5,263 266.5,275 262,275" fill="url(#p_teal)"/>
<polygon points="266.5,263 268,258 271.6,248 274,248 277,250 278,275 266.5,275" fill="url(#p_teal)"/>
<polygon points="276.8,250 278,232 282,222 286,214 289,214 289.5,230 289,275 277,275" fill="url(#p_green)"/>
<polygon points="279,240 283,226 287,216 288.5,220 288,250 287,268 281,268" fill="url(#p_plume)"/>
<polygon points="283,245 284.5,238 285.5,240 286,255 288,268 286,268" fill="url(#p_orange)"/>
<rect x="286.5" y="215.7" width="1.9" height="10.3" fill="#800080"/>
<polygon points="281,232.5 283,232.5 284.5,239 282.5,239" fill="#800080"/>
<rect x="286" y="228" width="1.5" height="5" fill="#ff0000"/>
<polygon points="276,208 280,208 280,212 276,212" fill="url(#p_red)"/>
<polygon points="289,250 292,250 294,248 297.5,233 300,232 302.6,233 304,240 310,241 314,243 316,247 318,250 318,275 289,275" fill="url(#p_green)"/>
<polygon points="289,258 318,256 318,275 289,275" fill="url(#p_tealg)"/>
<rect x="301" y="232.5" width="1.5" height="3" fill="#ff0000"/>
<polygon points="318,232 319,218 321,214.4 324,216 327,225 328.4,240 329,275 318,275" fill="url(#p_green)"/>
<polygon points="319,235 321,222 324,222 327,240 327.8,266 320,266" fill="url(#p_yellow)"/>
<rect x="320.5" y="215" width="2.5" height="17" fill="url(#p_red)"/>
<polygon points="322.6,244 325,243 327.8,252 327.8,264.8 323.5,264.8" fill="url(#p_red)"/>
<polygon points="319,250 322.6,244 323.5,264.8 319.5,266" fill="url(#p_orange)"/>
<polygon points="328.4,259 334,257 339.4,257 339.4,275 328.4,275" fill="url(#p_teal)"/>
<polygon points="338,250 340,238 345,236 350,237 355,240 358.8,236 358.8,275 338,275" fill="url(#p_green)"/>
<polygon points="338,257 358.8,255 358.8,275 338,275" fill="url(#p_tealg)"/>
<polygon points="347,232.5 349,232.5 351,244 349,244" fill="#800080"/>
<rect x="348" y="236" width="2" height="4" fill="#ff0000"/>
<rect x="355.5" y="249" width="1.5" height="4" fill="#800080"/>
<polygon points="356.8,236 358,224 360,220.8 363,222 366,228 370,230 372,236 374.3,245 375.5,258 375.5,275 356.8,275" fill="url(#p_green)"/>
<polygon points="359,236 361,226 364,228 367,234 372,245 373,262 362,262 359,250" fill="url(#p_yellow)"/>
<rect x="364" y="234" width="2" height="6" fill="#800080"/>
<rect x="366" y="240" width="2" height="7" fill="#ff0000"/>
<rect x="369.5" y="244" width="2.2" height="9" fill="#800080"/>
<rect x="367" y="250" width="2" height="6" fill="#ff0000"/>
<polygon points="358.8,260 375.5,259 375.5,275 358.8,275" fill="url(#p_tealg)"/>
<rect x="375.5" y="267.5" width="18.5" height="1.2" fill="#ffff00"/>
<polygon points="382.6,246 389,246 389,260 382.6,260" fill="url(#p_sparseg)"/>
<rect x="383" y="247" width="1.5" height="4" fill="#800080"/>
<polygon points="382,260 389,258 389,275 382,275" fill="url(#p_sparset)"/>
<polygon points="389.7,219 396.8,219 398,224 404,224 406,232 408,245 409.7,260 409.7,275 385,275 387,262 389.7,250" fill="url(#p_streakyg)"/>
<polygon points="389.7,211.8 396.8,211.8 396.8,219.5 389.7,219.5" fill="url(#p_cloud)"/>
<rect x="391" y="213" width="3" height="4" fill="#800080"/>
<polygon points="398,215.7 404,215.7 404,224.7 398,224.7" fill="url(#p_cloud)"/>
<rect x="399" y="219" width="2" height="4" fill="#800080"/>
<polygon points="392,225 394,222 396,232 395,245 393,248" fill="url(#p_plumeg)"/>
<polygon points="402,249 404,249 405.8,267 404,267" fill="url(#p_red)"/>
<polygon points="399.5,249 402,249 404,267 401.5,267" fill="url(#p_yellow)"/>
<polygon points="386,262 395,257 408,258 409.7,275 386,275" fill="url(#p_teal)"/>
<polygon points="422,224.7 425,224.7 426.5,242.8 423,242.8" fill="url(#p_greeny)"/>
<rect x="426.5" y="244" width="2.5" height="8" fill="url(#p_redp)"/>
<polygon points="413.6,265 418,262 425,256 432,250 437,245 445,243 445,275 413.6,275" fill="url(#p_teal)"/>
<polygon points="436,236 440,232 447.8,232 453,240 453,252 436,252" fill="url(#p_green)"/>
<polygon points="438.8,214.4 440.5,214.4 443,224 446,230 446,233 443,233 440,226" fill="url(#p_redp)"/>
<polygon points="440,217 442,217 444,228 442,230" fill="url(#p_redp)"/>
<polygon points="446,220 447.8,218 447.8,226 446,230" fill="url(#p_redp)"/>
<polygon points="453,211.8 455,211.8 462,234 462,238 459.5,236" fill="url(#p_redp)"/>
<polygon points="459.4,233.8 463.3,233.8 463.3,259.6 459.4,259.6" fill="url(#p_yellow)"/>
<polygon points="450,240 459,236 466,240 466,246 450,248" fill="url(#p_green)"/>
<polygon points="440,249 453,249 458,244 463,242.8 473.6,242.8 479,245 486.5,245 489,253 497,261 505,263.5 505,275 440,275" fill="url(#p_teal)"/>
<rect x="459.4" y="244" width="3.9" height="15.6" fill="url(#p_yellow)"/>
<polygon points="440,236 447,235 452,242 447,250 440,250" fill="url(#p_green)"/>
<polygon points="481.3,238 485,228 492,220 498,214.4 501,216 497,222 490,230 484,240 482,246" fill="url(#p_cloud)"/>
<polygon points="489,246 492,238 498,232 503,226 505,226 505,236 497,242 491,248" fill="url(#p_cloud)"/>
<polygon points="476,240 488,236 488,246 476,246" fill="url(#p_sparseg)"/>
<polygon points="500,224.7 504,226 507.8,236 507.8,240 501,240" fill="url(#p_redp)"/>
<polygon points="500,232 503,230 507,240 502,241" fill="url(#p_yellow)"/>
<polygon points="488,262 495,260 505,261 512,259.6 522,259.6 522,275 488,275" fill="url(#p_teal)"/>
<polygon points="522,235 524,226 526,228 529.7,236 529.7,275 522,275" fill="url(#p_green)"/>
<polygon points="522.5,240 525,238 526,250 523,252" fill="url(#p_redp)"/>
<polygon points="521,255 529.7,254 529.7,275 521,275" fill="url(#p_teal)"/>
<polygon points="529.7,245 531,228 537,226 545,228 552,226 560,226 565,226 565,246 529.7,246" fill="url(#p_streaky)"/>
<polygon points="529.7,244 545,244 545,250 529.7,250" fill="url(#p_green)"/>
<polygon points="545,246 552,243 565,243 565,258 545,258" fill="url(#p_warmband)"/>
<polygon points="532,250 545,249 545,258 532,258" fill="url(#p_yo)"/>
<polygon points="529.7,258 565,257 565,275 529.7,275" fill="url(#p_greeny)"/>
<polygon points="529.7,262 545,261 545,275 529.7,275" fill="url(#p_tealg)"/>
<polygon points="533.8,198 537,193 541,189 545,184.6 546.5,187 545,196 540,200.7 534,200.7" fill="url(#p_cloud)"/>
<polygon points="537,195 541,191 543,192 540,197" fill="#800080"/>
<polygon points="565,244 567,234 570,226 575,225.4 577,235 580,237 590,232 595,224 605,222 614,226 620,232 625,233.8 625,275 565,275" fill="url(#p_green)"/>
<polygon points="566,236 570,228 575,228 576,245 566,246" fill="url(#p_plume)"/>
<polygon points="568,229 571,226.5 574,228 571,236" fill="url(#p_redp)"/>
<polygon points="579.4,240 585,232 590,227 595,223.4 605,222 614,225 619.4,232.5 617,236 612,232 600,231 590,234 584,240" fill="url(#p_cloud)"/>
<polygon points="590,228 600,224 610,226 612,230 600,229 590,232" fill="url(#p_redp)"/>
<polygon points="566,248 574,246.7 580,248 578,255.7 566,255.7" fill="url(#p_plume)"/>
<rect x="568" y="249" width="1.5" height="4" fill="#800080"/>
<rect x="574" y="248" width="1.5" height="4" fill="#800080"/>
<polygon points="578,242 590,238 598,240 598,252 580,256" fill="url(#p_plumeg)"/>
<polygon points="565,256 590,256 590,275 565,275" fill="url(#p_greeny)"/>
<polygon points="589.7,250 600,249 625,249 625,275 589.7,275" fill="url(#p_teal)"/>
<polygon points="601,235 614,235 614,244 601,244" fill="#ffffff"/>
<polygon points="611.7,244 620.7,244 620.7,254.4 611.7,254.4" fill="#ffffff"/>
<polygon points="602.6,253 609,253 609,267.4 602.6,267.4" fill="#ffffff"/>
<polygon points="620,235 635,228.6 660,230 675,233 679.4,240 684,246 690,252 700,253 700,256 620,256" fill="url(#p_green)"/>
<polygon points="635,229 660,229 677,234 679.4,240 660,240 635,237" fill="url(#p_greenred)"/>
<polygon points="620,236 626,230 635,229 635,236 620,240" fill="url(#p_greenred)"/>
<polygon points="621,243 631,243 631,248 621,248" fill="#ffffff"/>
<polygon points="652.4,242 656.7,242 656.7,253 652.4,253" fill="#ffffff"/>
<polygon points="675,243 677,242 678,246 676,248" fill="#ffffff"/>
<polygon points="620,252 652,252 658,254 652,257 620,257" fill="url(#p_yo)"/>
<polygon points="620,257 659,257 659,275 620,275" fill="url(#p_tealg)"/>
<polygon points="658.8,252 679.4,252 700,255 700,275 658.8,275" fill="url(#p_yo)"/>
<polygon points="680,259 700,259 700,275 680,275" fill="url(#p_orange)"/>
<rect x="679.4" y="256" width="20.6" height="2.5" fill="#800080"/>
<rect x="665" y="252" width="1.5" height="4" fill="#800080"/>
<rect x="670" y="252.5" width="1.5" height="3.5" fill="#800080"/>
<polygon points="633.5,200.5 636,193 641,187 648,182.5 651,184 655,192 658,186 661,183.5 664,186 668,191 674,194 680,195.5 680,200 672,199 666,197 661,191 657,198 652,199 648,190 644,190 638,196 636,201" fill="url(#p_cloud)"/>
<rect x="648" y="185" width="2" height="3" fill="#800080"/>
<rect x="656" y="194" width="2" height="3" fill="#800080"/>
<rect x="668" y="194" width="2" height="4" fill="#800080"/>
<rect x="638" y="195" width="2" height="4" fill="#800080"/>
<rect x="645" y="217" width="3.4" height="6.4" fill="url(#p_red)"/>
<polygon points="566.7,176 571,169 580,168.5 588,172 595,176 600,175 604,171 604.2,178 598,182.3 590,180 583,177 575,177 570.7,183.4 567,183" fill="url(#p_cloud)"/>
<polygon points="572,171 584.6,172 584.6,176.5 572,176.5" fill="#800080"/>
<polygon points="566.7,176 570.7,176 570.7,183 566.7,183" fill="#800080"/>
<rect x="532.5" y="169" width="1" height="3" fill="#ff8000"/>
<rect x="557" y="167" width="1" height="6" fill="#ff8000"/></g><rect x="75" y="190" width="1" height="3" fill="#ff8000"/>
<rect x="75" y="193" width="1" height="3" fill="#ff0000"/>
<rect x="75" y="196" width="1" height="2" fill="#ffc000"/>
<rect x="169" y="208" width="1" height="4" fill="#ffff00"/>
<rect x="169" y="214" width="1" height="4" fill="#a0ff00"/>
<rect x="169" y="221" width="1" height="2" fill="#a0ff00"/>
<rect x="168" y="226" width="1" height="3" fill="#00ff00"/>
<rect x="188" y="232" width="1" height="6" fill="#00ff00"/>
<rect x="246" y="216" width="1" height="6" fill="#ffff00"/>
<rect x="622" y="178" width="1" height="3" fill="#ff8000"/>
<rect x="623" y="174" width="1" height="3" fill="#ff8000"/>
<rect x="624" y="170" width="1" height="3" fill="#ff0000"/>
<rect x="625" y="166" width="1" height="3" fill="#ff8000"/>
<rect x="626" y="163" width="1" height="2" fill="#800080"/>
<rect x="631" y="159" width="1" height="6" fill="#ff0000"/>
<rect x="631" y="167" width="1" height="4" fill="#ff0000"/>
<rect x="631" y="173" width="1" height="3" fill="#ff0000"/>
<rect x="627" y="176" width="1" height="4" fill="#ff8000"/>
<rect x="617" y="174" width="1" height="3" fill="#ff8000"/>
<rect x="616" y="114" width="2" height="4" fill="#ff0000"/>
<polygon points="616,117 618,117 620,124 620,130 618,130 616,122" fill="#ff0000"/>
<rect x="626" y="96" width="2" height="2" fill="#b00048"/>
<rect x="621" y="115" width="1" height="4" fill="#ff0000"/>
<rect x="626" y="120" width="1" height="2" fill="#ff0000"/>
<rect x="622" y="118" width="1" height="1" fill="#ff0000"/></g>
<rect x="51" y="538" width="649" height="1" fill="#800080"/>
<g clip-path="url(#clip2)"><g filter="url(#rough)"><polygon points="45,493 54,492 56,500 58,515 60,525 62,532 62,545 45,545" fill="url(#p_v_green)"/>
<polygon points="45,506 54,506 56,516 58,526 45,526" fill="url(#p_v_blueg)"/>
<polygon points="45,493 54,492 55,498 45,499" fill="url(#p_v_yellow)"/>
<polygon points="54,525 59,524 63,532 63,545 54,545" fill="url(#p_v_lav)"/>
<polygon points="56,520 58,520 60,532 57,532" fill="url(#p_v_blue)"/>
<polygon points="63,502 66,495 70,494 72,502 72,532 64,532 63,515" fill="url(#p_v_streak)"/>
<polygon points="65,508 68,506 70,520 69,532 66,532 65,520" fill="url(#p_v_blue)"/>
<polygon points="70,508 73,496 76,484 79,476 81.5,471 81.5,485 79,500 76,515 73,520 71,520" fill="url(#p_v_streakw)"/>
<rect x="78" y="471" width="3" height="7" fill="url(#p_v_warm)"/>
<polygon points="76,506 79,498 80,510 77,520" fill="url(#p_v_green)"/>
<polygon points="79,495 81,488 81.5,500 80,506" fill="url(#p_v_blue)"/>
<polygon points="72,527 80,526 88,526 92,524 94,519 98,519 100,521 105,523 109,524 109,545 72,545" fill="url(#p_v_ground)"/>
<polygon points="94,519 98,519 99,526 94,526" fill="url(#p_v_blue)"/>
<polygon points="100,519 103,518 104.7,522 104.7,545 100,545" fill="url(#p_v_ground2)"/>
<rect x="105" y="516" width="1" height="5" fill="url(#p_v_green)"/>
<polygon points="110,531 113.6,534 110,537" fill="url(#p_v_green)"/>
<polygon points="104,457 107,456 107.5,465 104,465" fill="url(#p_v_green)"/>
<rect x="103" y="465" width="3.5" height="22.5" fill="url(#p_v_green)"/>
<rect x="103" y="470" width="2" height="17" fill="url(#p_v_blue)"/>
<polygon points="115,531 126,530.5 126,528 131,528 131,524 136,523.7 136,545 115,545" fill="url(#p_v_ground)"/>
<polygon points="136.5,498 138,484 140,484 141,500 141.5,526 136.5,526" fill="url(#p_v_green)"/>
<rect x="137.5" y="484" width="1.5" height="4" fill="#ffff00"/>
<polygon points="139,498 140.5,496 141,520 139,522" fill="url(#p_v_blue)"/>
<polygon points="126,528 141.5,522 148,525 148,545 126,545" fill="url(#p_v_blueg)"/>
<polygon points="159.5,526 161,522 163,520.5 166,520.5 173.6,525.7 173.6,545 159.5,545" fill="url(#p_v_ground)"/>
<polygon points="174,518 175.5,510 177,510 180,516 182.6,522 183,532 186,535 186,545 174,545" fill="url(#p_v_blue)"/>
<polygon points="176,522 179,520 180,532 177,532" fill="url(#p_v_lav)"/>
<polygon points="194.3,523 205,522 205,545 194.3,545" fill="url(#p_v_blue)"/>
<polygon points="195.5,515 198,505 202,505 203.3,515 203.3,524 195.5,524" fill="url(#p_v_blue)"/>
<polygon points="198,526 205,524 205,545 198,545" fill="url(#p_v_ground2)"/>
<polygon points="200,510 202,505 205,508 205,525 200,525" fill="url(#p_v_blue)"/>
<polygon points="204,521 215,520 215,545 204,545" fill="url(#p_v_sparse)"/>
<polygon points="215,518 218,516 222,515 230,514 236,515 238.8,516 238.8,545 215,545" fill="url(#p_v_ground)"/>
<polygon points="222,516 232,515 236,525 222,528" fill="url(#p_v_blueg)"/>
<polygon points="238.8,502 240,494 243,492 246,494 248,500 249.7,515 249.7,545 238.8,545" fill="url(#p_v_blue)"/>
<polygon points="242,510 244,508 246,525 243,528" fill="url(#p_v_lav)"/>
<polygon points="251.7,495 252.5,482 253.5,477 255,480 257,492 259.4,510 259.4,538 252,538" fill="url(#p_v_lav)"/>
<polygon points="253,495 255,485 257,495 258,520 256,532 254,520" fill="url(#p_v_blue)"/>
<polygon points="259.4,527 265,528 265,545 259.4,545" fill="url(#p_v_sparseb)"/>
<polygon points="266.5,533 268,528 271.6,518 274,518 277,520 278,545 266.5,545" fill="url(#p_v_blueg)"/>
<polygon points="276.8,520 278,502 282,492 286,484 289,484 289.5,500 289,545 277,545" fill="url(#p_v_blueg)"/>
<polygon points="280,515 283,500 287,492 288.5,495 288,530 284,532" fill="url(#p_v_blue)"/>
<polygon points="283,515 285,512 286,528 284,528" fill="url(#p_v_lav)"/>
<polygon points="289,520 292,520 294,518 297.5,503 300,502 302.6,503 304,510 310,511 314,513 316,517 318,520 318,545 289,545" fill="url(#p_v_blueg)"/>
<polygon points="296,510 300,505 304,510 312,514 316,525 296,526" fill="url(#p_v_green)"/>
<polygon points="289,530 318,528 318,545 289,545" fill="url(#p_v_ground2)"/>
<rect x="301" y="502.5" width="1.5" height="3" fill="#ffff00"/>
<polygon points="318,502 319,488 321,484.4 324,486 327,495 328.4,510 329,545 318,545" fill="url(#p_v_blue)"/>
<polygon points="321,505 323,502 325,520 322,525" fill="url(#p_v_lav)"/>
<rect x="321" y="484.4" width="2" height="5.6" fill="url(#p_v_green)"/>
<polygon points="328.4,529 334,527 339.4,527 339.4,545 328.4,545" fill="url(#p_v_ground2)"/>
<polygon points="338,520 340,508 345,506 350,507 355,510 358.8,506 358.8,545 338,545" fill="url(#p_v_blueg)"/>
<polygon points="338,515 345,506 350,510 348,525 340,526" fill="url(#p_v_blue)"/>
<polygon points="338,530 358.8,528 358.8,545 338,545" fill="url(#p_v_gmix)"/>
<polygon points="356.8,506 358,494 360,490.8 363,492 366,498 370,500 372,506 374.3,515 375.5,528 375.5,545 356.8,545" fill="url(#p_v_blue)"/>
<polygon points="357,506 358,494 360,490.8 363,492 365,510 360,515" fill="url(#p_v_green)"/>
<polygon points="366,510 369,508 371,525 368,526" fill="url(#p_v_lav)"/>
<polygon points="362,522 366,520 372,526 372,545 362,545" fill="url(#p_v_warm)"/>
<rect x="362" y="525" width="4" height="20" fill="url(#p_v_blueg)"/>
<rect x="375.5" y="538" width="18.5" height="7" fill="#800080"/>
<polygon points="382.6,516 389,516 389,545 382.6,545" fill="url(#p_v_sparse)"/>
<rect x="383" y="517" width="2" height="5" fill="url(#p_v_warm)"/>
<polygon points="389.7,489 396.8,489 398,494 404,494 406,502 408,515 409.7,530 409.7,545 385,545 387,532 389.7,520" fill="url(#p_v_streakb)"/>
<polygon points="389.7,482 396.8,482 396.8,492 389.7,492" fill="url(#p_v_green)"/>
<polygon points="398,485.7 404,485.7 404,494.7 398,494.7" fill="url(#p_v_green)"/>
<polygon points="392,498 394,496 396,505 395,520 393,522" fill="url(#p_v_blue)"/>
<polygon points="401,515 404,514 407,532 403,532" fill="url(#p_v_lav)"/>
<polygon points="386,528 395,527 408,528 409.7,545 386,545" fill="url(#p_v_gmix)"/>
<polygon points="422,494.7 425,494.7 426.5,512.8 423,512.8" fill="url(#p_v_yellow)"/>
<rect x="426.5" y="514" width="2.5" height="8" fill="url(#p_v_warm)"/>
<polygon points="413.6,535 418,532 425,526 432,520 437,517 445,516 445,545 413.6,545" fill="url(#p_v_gmixw)"/>
<polygon points="413.6,536 445,528 445,545 413.6,545" fill="url(#p_v_gmix)"/>
<polygon points="438.8,484.4 440.5,484.4 443,494 448,504 446,516 443,514 440,496" fill="url(#p_v_blueg)"/>
<polygon points="452.5,481.8 456,481.8 460,492 464,506 466,525 462,526 459,508 455,495" fill="url(#p_v_blue)"/>
<polygon points="458,506 462,506 465,520 462,522" fill="url(#p_v_lav)"/>
<polygon points="440,519 453,519 458,517 463,516 473.6,516 479,517 486.5,518 489,523 497,531 505,533.5 505,545 440,545" fill="url(#p_v_gmixw)"/>
<polygon points="440,528 486,527 497,532 505,534 505,545 440,545" fill="url(#p_v_gmix)"/>
<polygon points="463,514 473,514 476,522 463,524" fill="url(#p_v_blue)"/>
<polygon points="481.3,508 485,498 492,490 498,484.4 501,486 497,492 490,500 484,510 482,516" fill="url(#p_v_sparseb)"/>
<polygon points="489,516 492,508 498,502 503,496 505,496 505,506 497,512 491,518" fill="url(#p_v_sparseb)"/>
<polygon points="476,510 488,506 488,516 476,516" fill="url(#p_v_sparse)"/>
<polygon points="500,494.7 504,496 507.8,506 507.8,510 501,510" fill="url(#p_v_sparseb)"/>
<polygon points="505,532 512,529.6 522,529.6 522,545 505,545" fill="url(#p_v_gmix)"/>
<polygon points="522,505 524,496 526,498 529.7,506 529.7,545 522,545" fill="url(#p_v_warmw)"/>
<rect x="523" y="510" width="2" height="6" fill="#800080"/>
<polygon points="529.7,505 533,499 537,498.6 543,503 548,500 553,505 560,502 565,498 565,545 529.7,545" fill="url(#p_v_blueg)"/>
<polygon points="540,510 548,506 560,510 565,520 550,525 540,520" fill="url(#p_v_blue)"/>
<polygon points="545,515 552,514 556,526 548,528" fill="url(#p_v_lav)"/>
<polygon points="529.7,532 565,530 565,545 529.7,545" fill="url(#p_v_gmix)"/>
<rect x="562" y="496" width="5" height="6" fill="url(#p_v_warm)"/>
<polygon points="533.8,468 537,463 541,459 545,454.6 546.5,457 545,466 540,470.7 534,470.7" fill="url(#p_v_blue)"/>
<polygon points="533.8,466 537,464 538,470.7 534,470.7" fill="url(#p_v_lav)"/>
<polygon points="565,514 567,504 570,496 575,495.4 577,505 580,507 584,506 590,502 595,494 605,492 614,496 620,502 625,503.8 625,545 565,545" fill="url(#p_v_ground2)"/>
<polygon points="572,510 580,506 592,506 600,512 598,526 575,526" fill="url(#p_v_yellow)"/>
<polygon points="566,514 576,512 580,520 600,520 598,528 566,528" fill="url(#p_v_green)"/>
<polygon points="566,499 571,496.5 574,498 572,506 567,506" fill="url(#p_v_warm)"/>
<rect x="566.5" y="496" width="3.5" height="4" fill="#800080"/>
<polygon points="580.5,506 584.6,499 592.8,494 600,493.5 610,494.5 617,498 621.5,503 623.6,512.7 619,511 612,506 602,505 592,508 586,513 581,516" fill="url(#p_v_warm)"/>
<polygon points="603,494.5 612,495 619.5,499 620,505 612,504 605,503" fill="#800080"/>
<polygon points="592,497 598,495 600,499 594,501" fill="#800080"/>
<polygon points="560,514 566,510 566,526 560,526" fill="url(#p_v_blue)"/>
<polygon points="619,506 625,503.8 625,532 619,532" fill="url(#p_v_blue)"/>
<polygon points="565,526 625,526 625,545 565,545" fill="url(#p_v_gmix)"/>
<polygon points="601,505.5 614,505.5 614,514 601,514" fill="#ffffff"/>
<polygon points="604,514 620.7,514 620.7,524.4 604,524.4" fill="#ffffff"/>
<polygon points="602.6,523 612,523 612,536 602.6,536" fill="#ffffff"/>
<polygon points="620,505 635,498.6 645,498 655,500 660,502 660,532 620,532" fill="url(#p_v_streakb)"/>
<polygon points="632,502 640,499 650,501 656,510 652,528 636,528" fill="url(#p_v_blue)"/>
<polygon points="620,510 626,508 628,525 620,526" fill="url(#p_v_yellow)"/>
<rect x="620" y="506" width="4" height="6" fill="url(#p_v_warm)"/>
<polygon points="630,506 640,501 646,506 640,515 632,514" fill="url(#p_v_blueg)"/>
<polygon points="620,513 628,513 628,518 620,518" fill="#ffffff"/>
<polygon points="652,511.5 657.5,511.5 657.5,522 652,522" fill="#ffffff"/>
<polygon points="660,502 668,503 675,504 680,508 684,515 690,525 660,528" fill="url(#p_v_lav)"/>
<polygon points="662,504 676,505 682,512 688,523 668,526 662,518" fill="#d4d4dc"/>
<rect x="664" y="510" width="2" height="16" fill="url(#p_v_blue)"/>
<polygon points="620,528 700,526 700,545 620,545" fill="url(#p_v_gmix)"/>
<polygon points="633.4,470 636,463 641,458 646,456 650,454 652,460 648,466 642,468 636,471" fill="url(#p_v_lav)"/>
<polygon points="646,456 650,448 654,447 656,456 660,454 663,453 664,460 658,466 650,466" fill="url(#p_v_streakb)"/>
<polygon points="658,455 662,453 668,456 674,460 680,464 680,469 672,469 666,466 660,464" fill="url(#p_v_blue)"/>
<polygon points="566.7,446 571,439 580,438.5 588,442 595,446 600,445 604,441 604.2,448 598,452.3 590,450 583,447 575,447 570.7,453.4 567,453" fill="url(#p_v_yellow)"/>
<polygon points="575,440 584.6,442 592,447 588,449 580,446 572,447" fill="url(#p_v_warm)"/>
<rect x="599" y="441" width="5" height="6" fill="url(#p_v_green)"/>
<rect x="533" y="441" width="1" height="3" fill="#0000ff"/>
<rect x="557" y="437" width="1" height="3" fill="#0000ff"/>
<rect x="552" y="440" width="1" height="3" fill="#00ff00"/></g><rect x="68" y="475" width="1" height="11" fill="#00ff00"/>
<rect x="75" y="460" width="2" height="4" fill="#a0ff00"/>
<rect x="76" y="464" width="1" height="3" fill="#ffff00"/>
<rect x="107" y="452" width="1" height="3" fill="#ffff00"/>
<rect x="106" y="455" width="1" height="3" fill="#a0ff00"/>
<rect x="169" y="478" width="1" height="5" fill="#0000ff"/>
<rect x="169" y="485" width="1" height="5" fill="#0000ff"/>
<rect x="168" y="493" width="1" height="3" fill="#6060ff"/>
<rect x="188" y="502" width="1" height="6" fill="#0000ff"/>
<rect x="246" y="486" width="1" height="6" fill="#0000ff"/>
<rect x="648" y="445" width="1" height="5" fill="#c0c0ec"/>
<rect x="655" y="446" width="1" height="4" fill="#c0c0ec"/>
<rect x="658" y="450" width="1" height="3" fill="#0000ff"/>
<rect x="622" y="448" width="1" height="3" fill="#0000ff"/>
<rect x="623" y="444" width="1" height="4" fill="#0000ff"/>
<rect x="624" y="441" width="1" height="4" fill="#2020e0"/>
<rect x="624" y="439" width="1" height="2" fill="#00d040"/>
<rect x="625" y="436" width="1" height="3" fill="#0000ff"/>
<rect x="626" y="433" width="1" height="2" fill="#6060ff"/>
<rect x="631" y="429" width="1" height="4" fill="#c0c0ec"/>
<rect x="632" y="436" width="1" height="4" fill="#c0c0ec"/>
<rect x="631" y="442" width="1" height="3" fill="#c0c0ec"/>
<rect x="634" y="444" width="1" height="4" fill="#c0c0ec"/>
<rect x="635" y="430" width="1" height="3" fill="#6060ff"/>
<rect x="616" y="444" width="2" height="3" fill="#00d040"/>
<rect x="616" y="384" width="2" height="4" fill="#008080"/>
<polygon points="616,387 618,387 619,392 620,399 619,399 616,394" fill="#0000ff"/>
<rect x="617" y="389" width="2" height="5" fill="#008080"/>
<rect x="621" y="385" width="1" height="3" fill="#00d040"/>
<rect x="626" y="390" width="1" height="1" fill="#0000ff"/>
<rect x="626" y="366" width="2" height="1" fill="#008080"/></g>
<defs><clipPath id="clip1"><rect x="51" y="40" width="649" height="229"/></clipPath><clipPath id="clip2"><rect x="51" y="310" width="649" height="229"/></clipPath></defs>
<g stroke="#000" stroke-width="1" shape-rendering="crispEdges">
<rect x="50.5" y="39.5" width="650" height="230" fill="none" stroke="#000" stroke-width="1"/>
<line x1="50" y1="250.5" x2="56" y2="250.5"/>
<line x1="695" y1="250.5" x2="701" y2="250.5"/>
<line x1="50" y1="231.5" x2="56" y2="231.5"/>
<line x1="695" y1="231.5" x2="701" y2="231.5"/>
<line x1="50" y1="212.5" x2="56" y2="212.5"/>
<line x1="695" y1="212.5" x2="701" y2="212.5"/>
<line x1="50" y1="193.5" x2="56" y2="193.5"/>
<line x1="695" y1="193.5" x2="701" y2="193.5"/>
<line x1="50" y1="174.5" x2="56" y2="174.5"/>
<line x1="695" y1="174.5" x2="701" y2="174.5"/>
<line x1="50" y1="154.5" x2="56" y2="154.5"/>
<line x1="695" y1="154.5" x2="701" y2="154.5"/>
<line x1="50" y1="135.5" x2="56" y2="135.5"/>
<line x1="695" y1="135.5" x2="701" y2="135.5"/>
<line x1="50" y1="116.5" x2="56" y2="116.5"/>
<line x1="695" y1="116.5" x2="701" y2="116.5"/>
<line x1="50" y1="97.5" x2="56" y2="97.5"/>
<line x1="695" y1="97.5" x2="701" y2="97.5"/>
<line x1="50" y1="78.5" x2="56" y2="78.5"/>
<line x1="695" y1="78.5" x2="701" y2="78.5"/>
<line x1="50" y1="59.5" x2="56" y2="59.5"/>
<line x1="695" y1="59.5" x2="701" y2="59.5"/>
<line x1="158.5" y1="39" x2="158.5" y2="45"/>
<line x1="158.5" y1="264" x2="158.5" y2="270"/>
<line x1="267.5" y1="39" x2="267.5" y2="45"/>
<line x1="267.5" y1="264" x2="267.5" y2="270"/>
<line x1="375.5" y1="39" x2="375.5" y2="45"/>
<line x1="375.5" y1="264" x2="375.5" y2="270"/>
<line x1="483.5" y1="39" x2="483.5" y2="45"/>
<line x1="483.5" y1="264" x2="483.5" y2="270"/>
<line x1="592.5" y1="39" x2="592.5" y2="45"/>
<line x1="592.5" y1="264" x2="592.5" y2="270"/>
<rect x="50.5" y="309.5" width="650" height="230" fill="none" stroke="#000" stroke-width="1"/>
<line x1="50" y1="520.5" x2="56" y2="520.5"/>
<line x1="695" y1="520.5" x2="701" y2="520.5"/>
<line x1="50" y1="501.5" x2="56" y2="501.5"/>
<line x1="695" y1="501.5" x2="701" y2="501.5"/>
<line x1="50" y1="482.5" x2="56" y2="482.5"/>
<line x1="695" y1="482.5" x2="701" y2="482.5"/>
<line x1="50" y1="463.5" x2="56" y2="463.5"/>
<line x1="695" y1="463.5" x2="701" y2="463.5"/>
<line x1="50" y1="444.5" x2="56" y2="444.5"/>
<line x1="695" y1="444.5" x2="701" y2="444.5"/>
<line x1="50" y1="424.5" x2="56" y2="424.5"/>
<line x1="695" y1="424.5" x2="701" y2="424.5"/>
<line x1="50" y1="405.5" x2="56" y2="405.5"/>
<line x1="695" y1="405.5" x2="701" y2="405.5"/>
<line x1="50" y1="386.5" x2="56" y2="386.5"/>
<line x1="695" y1="386.5" x2="701" y2="386.5"/>
<line x1="50" y1="367.5" x2="56" y2="367.5"/>
<line x1="695" y1="367.5" x2="701" y2="367.5"/>
<line x1="50" y1="348.5" x2="56" y2="348.5"/>
<line x1="695" y1="348.5" x2="701" y2="348.5"/>
<line x1="50" y1="329.5" x2="56" y2="329.5"/>
<line x1="695" y1="329.5" x2="701" y2="329.5"/>
<line x1="158.5" y1="309" x2="158.5" y2="315"/>
<line x1="158.5" y1="534" x2="158.5" y2="540"/>
<line x1="267.5" y1="309" x2="267.5" y2="315"/>
<line x1="267.5" y1="534" x2="267.5" y2="540"/>
<line x1="375.5" y1="309" x2="375.5" y2="315"/>
<line x1="375.5" y1="534" x2="375.5" y2="540"/>
<line x1="483.5" y1="309" x2="483.5" y2="315"/>
<line x1="483.5" y1="534" x2="483.5" y2="540"/>
<line x1="592.5" y1="309" x2="592.5" y2="315"/>
<line x1="592.5" y1="534" x2="592.5" y2="540"/>
</g>
<text x="47" y="273.2" font-size="12" text-anchor="end">0</text>
<text x="47" y="254.1" font-size="12" text-anchor="end">1</text>
<text x="47" y="235.0" font-size="12" text-anchor="end">2</text>
<text x="47" y="215.9" font-size="12" text-anchor="end">3</text>
<text x="47" y="196.9" font-size="12" text-anchor="end">4</text>
<text x="47" y="177.8" font-size="12" text-anchor="end">5</text>
<text x="47" y="158.7" font-size="12" text-anchor="end">6</text>
<text x="47" y="139.6" font-size="12" text-anchor="end">7</text>
<text x="47" y="120.5" font-size="12" text-anchor="end">8</text>
<text x="47" y="101.5" font-size="12" text-anchor="end">9</text>
<text x="47" y="82.4" font-size="12" text-anchor="end">10</text>
<text x="47" y="63.3" font-size="12" text-anchor="end">11</text>
<text x="47" y="44.2" font-size="12" text-anchor="end">12</text>
<text x="49.4" y="284" font-size="12" text-anchor="middle">00:00</text>
<text x="157.7" y="284" font-size="12" text-anchor="middle">04:00</text>
<text x="266.1" y="284" font-size="12" text-anchor="middle">08:00</text>
<text x="374.4" y="284" font-size="12" text-anchor="middle">12:00</text>
<text x="482.7" y="284" font-size="12" text-anchor="middle">16:00</text>
<text x="591.1" y="284" font-size="12" text-anchor="middle">20:00</text>
<text x="699.4" y="284" font-size="12" text-anchor="middle">00:00</text>
<text x="374.7" y="302" font-size="12" text-anchor="middle">Time (UTC)</text>
<text transform="translate(27,155.0) rotate(-90)" font-size="12" text-anchor="middle">Height (km)</text>
<text x="47" y="543.2" font-size="12" text-anchor="end">0</text>
<text x="47" y="524.1" font-size="12" text-anchor="end">1</text>
<text x="47" y="505.0" font-size="12" text-anchor="end">2</text>
<text x="47" y="485.9" font-size="12" text-anchor="end">3</text>
<text x="47" y="466.9" font-size="12" text-anchor="end">4</text>
<text x="47" y="447.8" font-size="12" text-anchor="end">5</text>
<text x="47" y="428.7" font-size="12" text-anchor="end">6</text>
<text x="47" y="409.6" font-size="12" text-anchor="end">7</text>
<text x="47" y="390.5" font-size="12" text-anchor="end">8</text>
<text x="47" y="371.4" font-size="12" text-anchor="end">9</text>
<text x="47" y="352.4" font-size="12" text-anchor="end">10</text>
<text x="47" y="333.3" font-size="12" text-anchor="end">11</text>
<text x="47" y="314.2" font-size="12" text-anchor="end">12</text>
<text x="49.4" y="554" font-size="12" text-anchor="middle">00:00</text>
<text x="157.7" y="554" font-size="12" text-anchor="middle">04:00</text>
<text x="266.1" y="554" font-size="12" text-anchor="middle">08:00</text>
<text x="374.4" y="554" font-size="12" text-anchor="middle">12:00</text>
<text x="482.7" y="554" font-size="12" text-anchor="middle">16:00</text>
<text x="591.1" y="554" font-size="12" text-anchor="middle">20:00</text>
<text x="699.4" y="554" font-size="12" text-anchor="middle">00:00</text>
<text x="374.7" y="572" font-size="12" text-anchor="middle">Time (UTC)</text>
<text transform="translate(27,425.0) rotate(-90)" font-size="12" text-anchor="middle">Height (km)</text>
<text x="53" y="33" font-size="12" textLength="72" lengthAdjust="spacing">14 Nov 2020</text>
<text x="56.3" y="55.8" font-size="12" font-weight="bold" textLength="208" lengthAdjust="spacing">Attenuated backscatter coefficient</text>
<text x="56.5" y="325.8" font-size="12" font-weight="bold" textLength="96.5" lengthAdjust="spacing">Doppler velocity</text>
<text x="2.5" y="572.6" font-size="12" font-weight="bold" textLength="174.5" lengthAdjust="spacing">TROPOS HALO Doppler Lidar</text>
<rect x="755" y="75" width="15" height="158" fill="url(#cm)"/>
<rect x="754.5" y="74.5" width="16" height="159" fill="none" stroke="#000" stroke-width="1" shape-rendering="crispEdges"/>
<rect x="755" y="345" width="15" height="158" fill="url(#cm)"/>
<rect x="754.5" y="344.5" width="16" height="159" fill="none" stroke="#000" stroke-width="1" shape-rendering="crispEdges"/>
<text x="729" y="80" font-size="12">10<tspan font-size="9" dy="-5">-4</tspan></text>
<text x="729" y="133" font-size="12">10<tspan font-size="9" dy="-5">-5</tspan></text>
<text x="729" y="186" font-size="12">10<tspan font-size="9" dy="-5">-6</tspan></text>
<text x="729" y="239" font-size="12">10<tspan font-size="9" dy="-5">-7</tspan></text>
<text transform="translate(723,155.8) rotate(-90)" font-size="12" text-anchor="middle">sr<tspan font-size="9" dy="-5">-1</tspan><tspan dy="5"> m</tspan><tspan font-size="9" dy="-5">-1</tspan></text>
<text x="751" y="348.6" font-size="12" text-anchor="end">2</text>
<text x="751" y="368.5" font-size="12" text-anchor="end">1.5</text>
<text x="751" y="388.4" font-size="12" text-anchor="end">1</text>
<text x="751" y="408.2" font-size="12" text-anchor="end">0.5</text>
<text x="751" y="428.1" font-size="12" text-anchor="end">0</text>
<text x="751" y="448.0" font-size="12" text-anchor="end">-0.5</text>
<text x="751" y="467.9" font-size="12" text-anchor="end">-1</text>
<text x="751" y="487.7" font-size="12" text-anchor="end">-1.5</text>
<text x="751" y="507.6" font-size="12" text-anchor="end">-2</text>
<text transform="translate(723,426) rotate(-90)" font-size="12" text-anchor="middle">m s<tspan font-size="9" dy="-5">-1</tspan></text>
</svg></body></html>
